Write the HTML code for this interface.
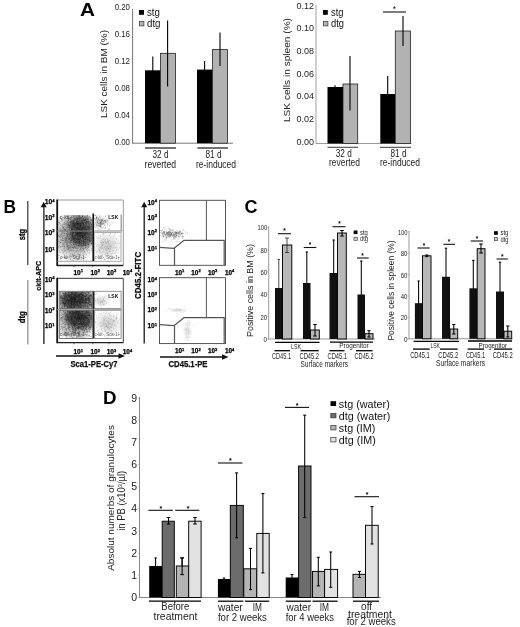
<!DOCTYPE html>
<html><head><meta charset="utf-8"><title>Figure</title>
<style>html,body{margin:0;padding:0;background:#fff}svg{display:block;filter:blur(0.35px)}text{font-family:"Liberation Sans", Arial, Helvetica, sans-serif}</style>
</head><body>
<svg width="520" height="627" viewBox="0 0 520 627" font-family='"Liberation Sans", Arial, Helvetica, sans-serif'>
<rect width="520" height="627" fill="#fff"/>
<text x="80.00" y="15.50" font-size="18" text-anchor="start" font-weight="bold" fill="#000" textLength="15" lengthAdjust="spacingAndGlyphs" >A</text>
<line x1="132.60000000000002" y1="9" x2="132.60000000000002" y2="143.7" stroke="#777" stroke-width="1.0" />
<line x1="132.3" y1="143.2" x2="233" y2="143.2" stroke="#777" stroke-width="1.0" />
<text x="114.70" y="145.30" font-size="9" text-anchor="start" font-weight="normal" fill="#222" textLength="15.3" lengthAdjust="spacingAndGlyphs" >0.00</text>
<text x="114.70" y="118.30" font-size="9" text-anchor="start" font-weight="normal" fill="#222" textLength="15.3" lengthAdjust="spacingAndGlyphs" >0.04</text>
<text x="114.70" y="91.30" font-size="9" text-anchor="start" font-weight="normal" fill="#222" textLength="15.3" lengthAdjust="spacingAndGlyphs" >0.08</text>
<text x="114.70" y="64.30" font-size="9" text-anchor="start" font-weight="normal" fill="#222" textLength="15.3" lengthAdjust="spacingAndGlyphs" >0.12</text>
<text x="114.70" y="37.30" font-size="9" text-anchor="start" font-weight="normal" fill="#222" textLength="15.3" lengthAdjust="spacingAndGlyphs" >0.16</text>
<text x="114.70" y="10.30" font-size="9" text-anchor="start" font-weight="normal" fill="#222" textLength="15.3" lengthAdjust="spacingAndGlyphs" >0.20</text>
<text x="107.30" y="118.00" font-size="9.5" text-anchor="start" font-weight="normal" fill="#222" textLength="88" lengthAdjust="spacingAndGlyphs" transform="rotate(-90 107.30 118.00)" >LSK cells in BM (%)</text>
<rect x="139.00" y="10.00" width="5.00" height="4.80" fill="#000"/>
<text x="147.00" y="15.60" font-size="10.5" text-anchor="start" font-weight="normal" fill="#111" textLength="13" lengthAdjust="spacingAndGlyphs" >stg</text>
<rect x="139.30" y="21.30" width="4.60" height="4.60" fill="#b4b4b4" stroke="#333" stroke-width="0.7"/>
<text x="147.00" y="27.00" font-size="10.5" text-anchor="start" font-weight="normal" fill="#111" textLength="13.5" lengthAdjust="spacingAndGlyphs" >dtg</text>
<line x1="152.8" y1="56.5" x2="152.8" y2="72" stroke="#000" stroke-width="1.1" />
<rect x="145.00" y="70.30" width="15.50" height="72.90" fill="#000"/>
<rect x="160.50" y="53.30" width="15.00" height="89.90" fill="#b2b2b2" stroke="#222" stroke-width="0.8"/>
<line x1="167.6" y1="20.5" x2="167.6" y2="86.5" stroke="#000" stroke-width="1.1" />
<line x1="204.6" y1="61" x2="204.6" y2="72" stroke="#000" stroke-width="1.1" />
<rect x="197.00" y="69.60" width="15.50" height="73.60" fill="#000"/>
<rect x="212.50" y="49.60" width="15.00" height="93.60" fill="#b2b2b2" stroke="#222" stroke-width="0.8"/>
<line x1="220" y1="32.5" x2="220" y2="66" stroke="#000" stroke-width="1.1" />
<line x1="145" y1="148" x2="176" y2="148" stroke="#000" stroke-width="1.1" />
<line x1="197.5" y1="148" x2="228" y2="148" stroke="#000" stroke-width="1.1" />
<text x="152.50" y="158.00" font-size="10" text-anchor="start" font-weight="normal" fill="#222" textLength="16" lengthAdjust="spacingAndGlyphs" >32 d</text>
<text x="144.55" y="167.50" font-size="10" text-anchor="start" font-weight="normal" fill="#222" textLength="31.5" lengthAdjust="spacingAndGlyphs" >reverted</text>
<text x="205.50" y="158.00" font-size="10" text-anchor="start" font-weight="normal" fill="#222" textLength="16" lengthAdjust="spacingAndGlyphs" >81 d</text>
<text x="196.00" y="167.50" font-size="10" text-anchor="start" font-weight="normal" fill="#222" textLength="40" lengthAdjust="spacingAndGlyphs" >re-induced</text>
<line x1="316" y1="5" x2="316" y2="144.0" stroke="#aaa" stroke-width="1.1" />
<line x1="316" y1="143.5" x2="411.5" y2="143.5" stroke="#999" stroke-width="1.0" />
<text x="296.50" y="144.60" font-size="9.2" text-anchor="start" font-weight="normal" fill="#222" textLength="17.5" lengthAdjust="spacingAndGlyphs" >0.00</text>
<text x="296.50" y="121.95" font-size="9.2" text-anchor="start" font-weight="normal" fill="#222" textLength="17.5" lengthAdjust="spacingAndGlyphs" >0.02</text>
<text x="296.50" y="99.30" font-size="9.2" text-anchor="start" font-weight="normal" fill="#222" textLength="17.5" lengthAdjust="spacingAndGlyphs" >0.04</text>
<text x="296.50" y="76.65" font-size="9.2" text-anchor="start" font-weight="normal" fill="#222" textLength="17.5" lengthAdjust="spacingAndGlyphs" >0.06</text>
<text x="296.50" y="54.00" font-size="9.2" text-anchor="start" font-weight="normal" fill="#222" textLength="17.5" lengthAdjust="spacingAndGlyphs" >0.08</text>
<text x="296.50" y="31.35" font-size="9.2" text-anchor="start" font-weight="normal" fill="#222" textLength="17.5" lengthAdjust="spacingAndGlyphs" >0.10</text>
<text x="296.50" y="8.70" font-size="9.2" text-anchor="start" font-weight="normal" fill="#222" textLength="17.5" lengthAdjust="spacingAndGlyphs" >0.12</text>
<text x="290.30" y="122.00" font-size="9.5" text-anchor="start" font-weight="normal" fill="#222" textLength="104" lengthAdjust="spacingAndGlyphs" transform="rotate(-90 290.30 122.00)" >LSK cells in spleen (%)</text>
<rect x="323.00" y="10.00" width="4.80" height="4.80" fill="#000"/>
<text x="331.00" y="15.60" font-size="10.5" text-anchor="start" font-weight="normal" fill="#111" textLength="12.5" lengthAdjust="spacingAndGlyphs" >stg</text>
<rect x="323.30" y="21.30" width="4.60" height="4.60" fill="#b4b4b4" stroke="#333" stroke-width="0.7"/>
<text x="331.00" y="27.00" font-size="10.5" text-anchor="start" font-weight="normal" fill="#111" textLength="13" lengthAdjust="spacingAndGlyphs" >dtg</text>
<line x1="335" y1="85.3" x2="335" y2="88" stroke="#000" stroke-width="1.1" />
<rect x="327.50" y="87.00" width="15.50" height="56.50" fill="#000"/>
<rect x="343.00" y="84.00" width="14.70" height="59.50" fill="#b2b2b2" stroke="#222" stroke-width="0.8"/>
<line x1="350" y1="56" x2="350" y2="110.5" stroke="#000" stroke-width="1.1" />
<line x1="387.7" y1="76" x2="387.7" y2="96" stroke="#000" stroke-width="1.1" />
<rect x="380.30" y="94.00" width="15.00" height="49.50" fill="#000"/>
<rect x="395.30" y="31.00" width="15.20" height="112.50" fill="#b2b2b2" stroke="#222" stroke-width="0.8"/>
<line x1="403" y1="16" x2="403" y2="46" stroke="#000" stroke-width="1.1" />
<line x1="383" y1="12" x2="406" y2="12" stroke="#111" stroke-width="1.1" />
<text x="394.50" y="11.60" font-size="8.5" text-anchor="middle" font-weight="normal" fill="#111" >*</text>
<line x1="327.5" y1="147.3" x2="358" y2="147.3" stroke="#222" stroke-width="0.9" />
<line x1="380" y1="147.3" x2="411" y2="147.3" stroke="#222" stroke-width="0.9" />
<text x="335.80" y="157.20" font-size="10" text-anchor="start" font-weight="normal" fill="#222" textLength="16" lengthAdjust="spacingAndGlyphs" >32 d</text>
<text x="329.00" y="166.00" font-size="10" text-anchor="start" font-weight="normal" fill="#222" textLength="31" lengthAdjust="spacingAndGlyphs" >reverted</text>
<text x="390.50" y="157.20" font-size="10" text-anchor="start" font-weight="normal" fill="#222" textLength="16" lengthAdjust="spacingAndGlyphs" >81 d</text>
<text x="380.00" y="166.00" font-size="10" text-anchor="start" font-weight="normal" fill="#222" textLength="40" lengthAdjust="spacingAndGlyphs" >re-induced</text>
<text x="3.50" y="212.60" font-size="17.5" text-anchor="start" font-weight="bold" fill="#000" textLength="12.5" lengthAdjust="spacingAndGlyphs" >B</text>
<line x1="27.8" y1="201" x2="27.8" y2="265" stroke="#222" stroke-width="1.1" />
<line x1="27.8" y1="280" x2="27.8" y2="344.5" stroke="#999" stroke-width="1.4" />
<text x="25.20" y="240.30" font-size="8.5" text-anchor="start" font-weight="bold" fill="#111" textLength="11.4" lengthAdjust="spacingAndGlyphs" transform="rotate(-90 25.20 240.30)" stroke="#000" stroke-width="0.25">stg</text>
<text x="25.20" y="323.30" font-size="8.5" text-anchor="start" font-weight="bold" fill="#111" textLength="12" lengthAdjust="spacingAndGlyphs" transform="rotate(-90 25.20 323.30)" stroke="#000" stroke-width="0.25">dtg</text>
<defs><marker id="ah" viewBox="0 0 10 10" refX="5" refY="5" markerWidth="5" markerHeight="5" orient="auto-start-reverse"><path d="M0,0 L10,5 L0,10 z" fill="#111"/></marker></defs>
<line x1="43.9" y1="344" x2="43.9" y2="206" stroke="#111" stroke-width="1.25" />
<path d="M43.7,201.8 L40.7,207.2 L46.7,207.2 z" fill="#111"/>
<text x="41.30" y="290.80" font-size="8" text-anchor="start" font-weight="bold" fill="#111" textLength="30" lengthAdjust="spacingAndGlyphs" transform="rotate(-90 41.30 290.80)" stroke="#000" stroke-width="0.25">ckit-APC</text>
<line x1="56" y1="356" x2="121" y2="356" stroke="#111" stroke-width="1.4" />
<path d="M125,356 L118.5,353.2 L118.5,358.8 z" fill="#111"/>
<text x="70.50" y="367.00" font-size="9" text-anchor="start" font-weight="bold" fill="#111" textLength="47" lengthAdjust="spacingAndGlyphs" stroke="#000" stroke-width="0.25">Sca1-PE-Cy7</text>
<defs>
<radialGradient id="gd"><stop offset="0" stop-color="#444" stop-opacity="0.72"/><stop offset="0.6" stop-color="#444" stop-opacity="0.62"/><stop offset="1" stop-color="#444" stop-opacity="0"/></radialGradient>
<radialGradient id="gh"><stop offset="0" stop-color="#444" stop-opacity="0.6"/><stop offset="0.6" stop-color="#555" stop-opacity="0.35"/><stop offset="1" stop-color="#666" stop-opacity="0"/></radialGradient>
<radialGradient id="gl"><stop offset="0" stop-color="#888" stop-opacity="0.45"/><stop offset="1" stop-color="#999" stop-opacity="0"/></radialGradient>
<radialGradient id="gl2"><stop offset="0" stop-color="#999" stop-opacity="0.3"/><stop offset="1" stop-color="#aaa" stop-opacity="0"/></radialGradient>
<filter id="bl" x="-5%" y="-5%" width="110%" height="110%"><feGaussianBlur stdDeviation="0.35"/></filter>
</defs>
<clipPath id="cp1"><rect x="58" y="215.0" width="34.8" height="47.5"/></clipPath>
<g clip-path="url(#cp1)">
<ellipse cx="75" cy="236" rx="24" ry="27" fill="url(#gh)"/>
<ellipse cx="81" cy="225" rx="15" ry="12" fill="url(#gd)"/>
<ellipse cx="83.5" cy="237" rx="14" ry="12" fill="url(#gd)"/>
<g filter="url(#bl)">
<path d="M75.7,236.6h.01M76.0,227.5h.01M69.6,228.7h.01M88.0,235.7h.01M87.3,233.7h.01M81.6,233.0h.01M63.0,240.4h.01M82.6,236.5h.01M70.0,225.8h.01M80.7,230.5h.01M82.7,223.9h.01M80.8,235.3h.01M72.0,249.9h.01M83.0,244.2h.01M72.4,222.9h.01M74.9,229.8h.01M83.7,233.7h.01M74.0,220.5h.01M73.3,244.4h.01M70.7,233.7h.01M78.4,245.4h.01M59.9,227.5h.01M77.0,222.0h.01M82.5,230.3h.01M64.8,240.1h.01M84.0,241.4h.01M91.0,235.0h.01M79.1,216.7h.01M83.5,224.3h.01M73.9,217.1h.01M69.3,225.2h.01M64.9,233.6h.01M91.0,237.4h.01M81.2,222.9h.01M67.9,241.8h.01M87.9,232.7h.01M80.2,235.8h.01M92.3,237.8h.01M82.7,237.0h.01M63.9,245.1h.01M86.6,236.8h.01M60.2,224.0h.01M76.3,242.2h.01M66.2,248.7h.01M83.0,229.3h.01M80.9,238.1h.01M79.1,243.6h.01M72.0,226.4h.01M87.4,231.3h.01M70.1,241.4h.01M91.2,226.1h.01M65.6,229.5h.01M76.7,227.7h.01M90.6,219.7h.01M89.3,217.0h.01M70.9,237.9h.01M88.2,240.4h.01M81.1,232.6h.01M79.4,237.3h.01M76.4,234.1h.01M83.2,231.0h.01M84.9,237.2h.01M74.2,226.9h.01M77.9,241.2h.01M75.0,235.2h.01M67.9,233.7h.01M81.6,233.6h.01M74.1,238.2h.01M80.5,225.3h.01M73.0,229.9h.01M76.0,230.3h.01M87.1,218.1h.01M77.4,241.5h.01M85.7,247.4h.01M62.7,227.1h.01M74.9,237.9h.01M87.8,215.1h.01M79.6,244.1h.01M76.7,233.1h.01M85.2,232.6h.01M77.2,247.9h.01M87.4,227.8h.01M86.2,228.1h.01M79.2,238.8h.01M80.0,238.0h.01M83.5,220.4h.01M89.4,239.2h.01M91.3,220.7h.01M78.0,218.5h.01M84.9,248.5h.01M70.0,248.2h.01M86.9,229.0h.01M60.3,246.5h.01M77.1,224.4h.01M81.6,235.5h.01M91.5,219.8h.01M88.2,247.4h.01M91.1,229.0h.01M71.3,242.2h.01M79.0,232.4h.01M90.8,228.1h.01M61.3,240.0h.01M80.9,224.3h.01M77.9,240.2h.01M78.7,245.6h.01M77.4,242.4h.01M91.4,248.7h.01M72.0,240.7h.01M61.1,219.1h.01M60.3,242.8h.01M66.9,230.9h.01M76.3,230.7h.01M72.7,233.6h.01M82.8,242.0h.01M76.2,217.1h.01M73.0,242.8h.01M63.2,224.4h.01M87.1,239.7h.01M78.1,239.9h.01M79.5,218.0h.01M63.9,224.0h.01M86.3,224.8h.01M69.9,222.5h.01M64.2,229.7h.01M67.4,235.0h.01M84.5,228.0h.01M80.6,226.0h.01M85.0,239.2h.01M84.0,234.6h.01M90.0,238.3h.01M86.1,245.4h.01M75.3,225.8h.01M82.2,257.7h.01M69.7,238.6h.01M83.1,240.9h.01M69.8,230.0h.01M80.6,240.1h.01M77.7,228.9h.01M68.9,227.1h.01M86.0,232.1h.01M70.3,221.7h.01M83.6,236.3h.01M77.4,236.7h.01M60.5,242.4h.01M80.9,223.3h.01M89.9,250.9h.01M65.4,223.7h.01M80.6,233.0h.01M74.4,220.3h.01M67.3,216.2h.01M70.2,233.9h.01M58.6,222.8h.01M77.5,236.8h.01M71.5,229.6h.01M82.1,235.1h.01M83.7,233.3h.01M75.1,239.7h.01M78.4,221.9h.01M72.4,231.0h.01M77.0,232.7h.01M78.0,232.9h.01M76.8,217.2h.01M81.8,242.6h.01M81.9,228.9h.01M82.0,220.4h.01M60.9,231.7h.01M69.6,239.1h.01M68.6,248.4h.01M74.6,215.9h.01M71.1,236.7h.01M82.5,232.9h.01M91.4,238.8h.01M77.8,237.6h.01M87.2,219.1h.01M76.7,239.0h.01M75.3,242.8h.01M83.4,241.0h.01M76.1,259.0h.01M89.2,228.6h.01M78.8,259.5h.01M74.9,240.6h.01M86.8,231.1h.01M67.5,233.1h.01M81.2,243.4h.01M85.0,231.3h.01M85.7,236.9h.01M79.9,231.6h.01M75.8,238.5h.01M68.5,224.1h.01M71.9,237.3h.01M83.1,230.4h.01M75.9,215.4h.01M87.8,221.3h.01M85.0,241.3h.01M60.9,230.4h.01M61.6,219.3h.01M72.3,215.6h.01M78.3,233.7h.01M83.7,238.7h.01M91.5,243.8h.01M66.2,225.4h.01M68.5,219.2h.01M77.3,231.1h.01M66.9,230.7h.01M76.2,227.6h.01M77.4,222.6h.01M84.3,234.9h.01M77.2,223.6h.01M69.2,231.4h.01M64.5,233.2h.01M79.3,215.8h.01M75.7,227.5h.01M82.1,237.7h.01M77.7,221.6h.01M76.7,230.3h.01M84.6,234.2h.01M71.5,216.1h.01M74.6,222.9h.01M68.0,229.7h.01M73.6,232.2h.01M82.7,226.5h.01M87.9,232.3h.01M71.2,233.7h.01M83.4,256.7h.01M80.9,245.1h.01M84.9,241.4h.01M82.6,229.3h.01M82.6,219.1h.01M88.6,219.8h.01M80.2,254.3h.01M76.0,231.2h.01M88.5,231.3h.01M70.7,233.8h.01M83.2,238.8h.01M71.0,250.3h.01M80.4,226.3h.01M90.7,223.2h.01M84.1,225.7h.01M71.8,238.9h.01M90.0,230.9h.01M71.9,239.9h.01M77.6,234.4h.01M91.7,243.4h.01M73.3,256.1h.01M78.0,239.6h.01M72.2,230.5h.01M62.3,250.7h.01M90.3,217.6h.01M88.6,225.9h.01M77.5,227.6h.01M76.9,219.0h.01M78.2,215.2h.01M77.4,234.4h.01M82.2,228.5h.01M69.9,232.8h.01M73.6,248.2h.01M84.9,229.7h.01M73.8,223.3h.01M69.6,227.1h.01M80.7,236.7h.01M83.1,254.1h.01M71.7,231.1h.01M73.3,232.9h.01M79.4,235.5h.01M75.9,235.0h.01M78.5,239.5h.01M61.0,221.3h.01M78.0,219.6h.01M68.6,237.9h.01M72.2,238.0h.01M84.7,234.4h.01M82.6,229.8h.01M65.3,230.7h.01M82.1,225.2h.01M77.1,239.2h.01M70.1,238.0h.01M79.3,229.3h.01M91.9,234.5h.01M86.1,223.4h.01M77.9,230.9h.01M62.0,246.8h.01M84.7,229.6h.01M82.0,235.0h.01M64.5,228.7h.01M91.4,224.7h.01M68.8,216.0h.01M67.0,234.7h.01M80.2,255.6h.01M73.3,223.6h.01M82.8,237.0h.01M68.9,218.1h.01M80.6,233.7h.01M66.2,228.8h.01M73.1,236.1h.01M76.9,230.1h.01M74.8,242.6h.01M90.5,227.0h.01M85.6,222.7h.01M78.6,239.2h.01M91.6,226.8h.01M77.3,233.2h.01M64.5,231.2h.01M71.9,235.1h.01M78.3,233.9h.01M73.1,240.8h.01M75.5,224.3h.01M71.9,230.8h.01M85.6,229.2h.01M80.8,223.8h.01M80.7,249.3h.01M71.8,257.0h.01M72.2,231.2h.01M79.6,242.3h.01M83.5,239.7h.01M83.6,259.9h.01M79.8,233.8h.01M86.4,235.1h.01M85.3,226.9h.01M86.3,254.7h.01M77.9,228.2h.01M73.5,221.8h.01M72.3,238.0h.01M78.3,231.7h.01M76.4,241.1h.01M82.4,229.4h.01M84.0,229.3h.01M67.6,247.0h.01M82.2,220.5h.01M87.7,234.8h.01M63.9,248.7h.01M81.0,240.8h.01M79.8,229.4h.01M64.1,241.7h.01M78.3,227.8h.01M81.2,231.9h.01M84.1,226.9h.01M74.2,238.4h.01M90.0,227.0h.01M76.9,248.4h.01M75.1,239.1h.01M89.0,223.2h.01M79.9,230.1h.01M79.0,243.4h.01M72.8,236.5h.01M68.5,236.5h.01M83.1,227.9h.01M71.7,224.9h.01M74.4,240.4h.01M78.7,226.6h.01M82.9,248.4h.01M78.1,235.0h.01M89.2,233.9h.01M66.4,258.4h.01M77.6,235.6h.01M86.7,238.4h.01M75.6,219.4h.01M78.9,242.4h.01M68.2,219.7h.01M75.7,226.2h.01M82.1,223.3h.01M70.1,226.7h.01M77.6,223.7h.01M78.1,239.3h.01M88.7,249.8h.01M70.9,226.4h.01M71.5,230.6h.01M82.7,216.1h.01M82.2,230.7h.01M61.6,234.2h.01M85.3,233.3h.01M82.3,235.9h.01M89.7,228.5h.01M85.9,226.5h.01M84.6,222.0h.01M77.0,250.0h.01M82.0,229.3h.01M67.7,222.3h.01M79.7,241.3h.01M81.8,236.8h.01M77.6,245.9h.01M74.5,225.0h.01M86.0,231.7h.01M75.5,224.7h.01M75.7,237.9h.01M81.2,217.7h.01M81.8,233.0h.01M69.0,239.5h.01M75.5,227.3h.01M85.2,245.5h.01M71.8,235.8h.01M70.1,256.5h.01M73.6,244.1h.01M72.2,239.9h.01M74.1,236.5h.01M77.2,223.6h.01M63.2,240.4h.01M62.5,243.7h.01M72.8,232.6h.01M89.3,232.3h.01M88.6,239.1h.01M70.7,240.5h.01M82.5,238.1h.01M86.1,239.1h.01M79.5,236.4h.01M75.0,231.4h.01M86.0,226.1h.01M88.3,222.3h.01M80.4,225.2h.01M79.4,223.4h.01M63.6,243.0h.01M80.7,224.9h.01M79.8,241.9h.01M69.2,229.8h.01M82.9,236.8h.01M89.2,234.6h.01M78.1,227.9h.01M80.4,226.3h.01M68.8,222.9h.01M72.6,224.3h.01M67.6,238.0h.01M66.2,238.3h.01M68.9,234.9h.01M90.4,233.2h.01M71.4,231.5h.01M72.5,232.8h.01M73.8,231.9h.01M84.6,239.4h.01M86.2,237.5h.01M75.4,230.8h.01M75.6,227.6h.01M75.0,230.7h.01M69.2,230.7h.01M82.6,229.2h.01M86.8,260.2h.01M82.7,227.7h.01M85.7,235.1h.01M78.2,224.5h.01M83.7,225.7h.01M80.0,225.4h.01M79.8,239.3h.01M70.1,230.6h.01M83.6,232.6h.01M89.2,252.9h.01M85.7,247.8h.01M86.3,240.0h.01M72.4,223.2h.01M86.0,221.0h.01M61.7,220.0h.01M71.8,223.0h.01M80.1,222.8h.01M89.8,230.1h.01M68.2,245.4h.01M72.8,233.4h.01M77.9,227.5h.01M80.9,223.4h.01M66.6,222.7h.01M77.8,231.6h.01M83.0,232.3h.01M70.9,223.2h.01M58.9,229.1h.01M82.4,236.8h.01M76.9,229.1h.01M86.4,231.2h.01M84.6,237.4h.01M79.9,245.4h.01M72.8,227.1h.01M70.7,222.2h.01M92.0,250.4h.01M78.2,237.3h.01M88.6,239.9h.01M88.8,217.1h.01M72.2,236.0h.01M90.9,232.1h.01M70.3,227.1h.01M72.1,221.6h.01M91.5,224.1h.01M78.2,254.8h.01M88.7,234.7h.01M72.5,235.5h.01M92.6,237.9h.01M89.4,232.1h.01M82.6,228.8h.01M81.8,245.3h.01M65.1,230.3h.01M80.2,224.7h.01M75.2,239.7h.01M77.7,218.7h.01M77.5,218.9h.01M78.6,236.1h.01M78.3,234.1h.01M70.3,246.7h.01M76.3,222.6h.01M68.9,227.1h.01M80.6,218.0h.01M76.8,246.7h.01M84.1,229.3h.01M79.1,229.7h.01M77.6,239.1h.01M77.8,221.2h.01M83.9,224.3h.01M79.3,255.0h.01M68.6,218.6h.01M61.1,235.0h.01M64.7,237.8h.01M71.0,227.0h.01M81.0,245.9h.01M79.3,233.0h.01M75.2,236.0h.01M80.6,231.6h.01M73.5,216.4h.01M89.0,236.9h.01M67.1,246.4h.01M82.8,235.7h.01M79.8,232.9h.01M66.8,215.7h.01M73.0,224.3h.01M81.3,233.9h.01M78.3,223.6h.01M74.0,241.5h.01M84.9,232.1h.01M75.1,248.1h.01M72.7,238.1h.01M88.4,228.1h.01M85.4,218.7h.01M87.1,233.2h.01M63.7,238.4h.01M70.0,245.1h.01M71.9,229.2h.01M80.5,227.3h.01M80.3,224.9h.01M84.0,231.1h.01M88.5,231.4h.01M62.0,232.1h.01M82.2,242.8h.01M68.3,248.0h.01M76.6,257.3h.01M76.7,238.5h.01M74.7,218.7h.01M87.9,241.0h.01M91.8,240.4h.01M72.1,223.6h.01M70.7,237.4h.01M81.0,228.0h.01M79.6,229.4h.01M79.9,239.3h.01M86.6,223.5h.01M64.4,246.7h.01M79.0,243.2h.01M63.2,227.4h.01M78.2,215.1h.01M73.4,239.0h.01M87.7,248.5h.01M70.2,215.6h.01M82.7,241.3h.01M79.7,216.7h.01M85.0,239.7h.01M83.0,225.6h.01M80.7,239.7h.01M81.0,236.3h.01M78.1,240.8h.01M72.7,230.1h.01M75.3,237.3h.01M92.4,228.2h.01M85.1,237.5h.01M77.0,219.3h.01M82.3,245.8h.01M82.8,235.7h.01M76.2,232.9h.01M65.2,242.5h.01M74.3,218.8h.01M71.2,221.9h.01M85.7,242.6h.01M65.8,241.2h.01M86.0,224.6h.01M64.6,222.8h.01M72.3,234.8h.01M86.1,217.7h.01M71.8,221.6h.01M73.1,245.3h.01M85.7,237.6h.01M73.3,224.9h.01M69.2,236.6h.01M71.3,223.2h.01M83.4,245.6h.01M79.6,220.3h.01M88.9,234.3h.01M86.3,247.3h.01M88.1,226.1h.01M87.5,239.5h.01M64.2,226.5h.01M65.2,229.8h.01M83.2,219.3h.01M59.5,245.3h.01M81.4,247.2h.01M66.1,242.7h.01M76.1,234.0h.01M76.6,242.0h.01M87.3,232.0h.01M65.8,239.2h.01M73.8,237.9h.01M80.4,248.9h.01M88.2,226.0h.01M81.1,250.4h.01M73.2,235.8h.01M88.7,244.8h.01M82.7,216.5h.01M66.7,233.7h.01M81.5,259.0h.01M70.2,243.5h.01M70.6,232.8h.01M73.6,229.3h.01M82.2,222.1h.01M82.2,224.0h.01M73.1,236.9h.01M72.8,234.2h.01M92.4,231.3h.01M76.7,239.1h.01M74.7,242.9h.01M66.5,237.8h.01M73.4,222.2h.01M91.1,220.3h.01M88.8,247.0h.01M77.0,229.6h.01M74.2,224.1h.01M82.0,234.6h.01M79.6,249.9h.01M75.0,236.2h.01M91.1,220.0h.01M87.3,251.2h.01M65.8,218.9h.01M82.5,247.0h.01M63.5,227.5h.01M60.7,239.6h.01M71.4,228.1h.01M78.5,237.0h.01M74.9,231.2h.01M73.1,232.3h.01M67.4,231.7h.01M60.6,225.6h.01M66.7,233.8h.01M71.4,239.1h.01M81.5,229.9h.01M69.7,219.1h.01M90.1,233.7h.01M65.7,258.2h.01M67.7,230.2h.01M79.9,229.3h.01M75.5,215.9h.01M68.5,249.6h.01M71.2,240.3h.01M62.8,228.0h.01M80.3,242.4h.01M67.9,237.5h.01M81.5,222.9h.01M82.3,221.1h.01M70.8,230.8h.01M74.2,239.4h.01M74.4,244.9h.01M67.6,216.6h.01M92.0,235.4h.01M86.5,221.9h.01M85.2,233.9h.01M83.8,231.3h.01M88.9,223.9h.01M88.4,222.9h.01M68.6,220.7h.01M74.0,217.0h.01M75.4,224.1h.01M73.0,220.4h.01M78.3,225.9h.01M79.0,233.7h.01M73.2,222.2h.01M71.6,227.8h.01M75.0,241.9h.01M74.0,241.6h.01M89.0,235.8h.01M82.4,232.4h.01M82.4,217.6h.01M86.5,225.1h.01M86.9,232.0h.01M60.2,216.8h.01M88.1,229.5h.01M74.4,233.7h.01M74.2,225.0h.01M78.9,232.6h.01M91.7,231.5h.01M79.2,232.5h.01M76.7,223.0h.01M77.4,224.0h.01M77.5,226.4h.01M68.2,218.5h.01M77.4,259.4h.01M77.7,229.4h.01M91.0,232.5h.01M79.5,226.9h.01M72.6,247.5h.01M87.0,249.9h.01M74.9,231.3h.01M70.1,241.6h.01M65.5,237.2h.01" stroke="#222" stroke-width="0.66" stroke-linecap="round" fill="none" opacity="0.6"/>
<path d="M87.7,242.7h.01M73.4,239.8h.01M75.0,223.2h.01M70.7,240.4h.01M91.5,224.7h.01M74.7,226.9h.01M75.3,240.7h.01M75.2,225.4h.01M66.8,238.2h.01M72.4,239.6h.01M68.0,218.6h.01M82.0,223.1h.01M85.5,230.1h.01M71.8,235.6h.01M75.0,226.9h.01M87.5,216.9h.01M78.3,233.1h.01M68.2,224.7h.01M83.6,244.3h.01M84.6,227.3h.01M71.8,221.6h.01M75.4,231.3h.01M79.7,245.0h.01M82.0,220.4h.01M90.8,238.5h.01M80.7,223.5h.01M66.9,220.8h.01M86.4,222.8h.01M70.8,231.8h.01M81.7,235.5h.01M84.6,242.7h.01M74.1,238.8h.01M73.1,236.2h.01M81.3,232.2h.01M86.8,229.8h.01M87.8,237.9h.01M80.9,224.9h.01M74.7,225.3h.01M78.6,229.8h.01M85.4,222.3h.01M75.0,227.1h.01M81.3,220.7h.01M91.3,224.9h.01M80.0,232.5h.01M81.3,235.4h.01M82.0,231.5h.01M66.8,223.6h.01M63.6,235.7h.01M82.2,228.2h.01M74.3,224.8h.01M79.6,241.6h.01M76.6,222.1h.01M76.1,231.7h.01M80.3,232.5h.01M79.8,238.4h.01M92.4,218.8h.01M81.1,227.6h.01M82.5,216.2h.01M83.7,231.7h.01M77.4,223.2h.01M70.1,221.8h.01M84.9,234.9h.01M79.8,234.6h.01M75.8,230.6h.01M80.3,235.0h.01M79.5,228.7h.01M79.1,224.2h.01M83.0,250.6h.01M89.8,216.0h.01M84.9,237.5h.01M85.4,219.4h.01M73.9,232.4h.01M83.5,220.8h.01M77.3,226.4h.01M80.4,233.0h.01M78.0,218.9h.01M88.7,244.4h.01M79.3,239.2h.01M83.1,235.9h.01M83.4,223.1h.01M84.0,239.1h.01M73.7,247.7h.01M77.6,224.6h.01M74.3,231.0h.01M79.8,236.0h.01M65.9,250.8h.01M84.7,234.3h.01M81.9,228.1h.01M79.1,222.6h.01M81.2,229.8h.01M82.2,222.3h.01M80.3,230.4h.01M84.2,220.4h.01M82.9,238.8h.01M84.2,226.7h.01M76.6,227.9h.01M85.1,244.0h.01M78.9,224.2h.01M82.6,231.8h.01M73.6,223.4h.01M79.3,236.0h.01M71.6,220.8h.01M83.5,219.0h.01M80.8,233.2h.01M79.2,220.8h.01M79.6,227.0h.01M82.4,222.5h.01M78.8,230.1h.01M86.7,224.5h.01M83.8,224.9h.01M85.2,245.6h.01M77.2,234.0h.01M73.5,238.8h.01M88.5,230.3h.01M72.1,233.6h.01M88.0,239.8h.01M75.2,242.8h.01M71.4,240.2h.01M87.8,227.0h.01M71.4,229.1h.01M78.6,229.6h.01M84.9,228.7h.01M81.3,233.8h.01M80.0,246.6h.01M83.1,230.8h.01M78.5,224.4h.01M89.4,231.4h.01M72.4,224.9h.01M79.0,226.0h.01M87.6,219.5h.01M83.4,231.3h.01M71.8,230.4h.01M79.3,234.5h.01M76.8,232.7h.01M68.3,220.2h.01M85.5,239.4h.01M79.9,224.6h.01M74.4,236.0h.01M84.6,220.7h.01M66.8,243.1h.01M81.1,221.9h.01M80.4,238.1h.01M61.9,240.0h.01M88.0,233.6h.01M80.0,239.4h.01M75.5,223.7h.01M77.4,229.3h.01M72.4,234.4h.01M83.8,230.6h.01M91.9,227.1h.01M89.1,225.1h.01M81.4,228.4h.01M76.5,224.5h.01M77.6,223.5h.01M64.6,224.6h.01M76.2,225.3h.01M72.6,228.8h.01M85.5,227.7h.01M76.6,242.2h.01M86.8,238.3h.01M88.1,227.1h.01M79.1,240.0h.01M76.1,228.9h.01M82.6,233.4h.01M78.1,238.9h.01M78.8,236.5h.01M87.5,235.9h.01M85.1,219.6h.01M70.8,224.4h.01M83.3,243.5h.01M71.4,232.8h.01M74.0,223.4h.01M78.1,236.2h.01M81.5,240.6h.01M73.1,238.0h.01M86.5,230.6h.01M83.3,224.9h.01M72.4,226.4h.01M75.5,256.0h.01M76.6,244.9h.01M81.4,232.8h.01M85.2,223.0h.01M86.4,233.4h.01M69.4,235.4h.01M83.9,234.1h.01M91.1,226.3h.01M83.6,236.7h.01M73.7,240.8h.01M69.8,218.3h.01M83.7,220.2h.01M79.2,215.2h.01M80.5,219.8h.01M82.4,216.2h.01M83.1,227.6h.01M80.4,229.4h.01M80.9,218.1h.01M62.0,230.3h.01M73.4,225.9h.01M74.7,224.5h.01M72.6,232.9h.01M79.0,222.6h.01M73.1,237.3h.01M75.4,235.3h.01M72.4,230.0h.01M82.4,237.0h.01M85.6,239.3h.01M77.4,228.1h.01M85.4,226.2h.01M87.4,215.7h.01M84.6,228.4h.01M66.2,238.8h.01M82.2,230.2h.01M72.5,225.8h.01M90.6,222.6h.01M71.6,228.8h.01M77.2,221.8h.01M74.1,239.4h.01M69.9,247.6h.01M76.2,220.2h.01M85.5,235.1h.01M72.7,236.7h.01M67.1,221.7h.01M87.9,227.7h.01M70.9,234.6h.01M86.4,229.8h.01M67.4,226.9h.01M82.9,236.9h.01M76.6,229.7h.01M88.4,221.5h.01M85.6,223.9h.01M83.2,236.2h.01M71.7,229.2h.01M81.7,235.3h.01M73.5,221.1h.01M66.5,252.9h.01M78.7,228.0h.01M69.5,238.4h.01M76.3,242.9h.01M86.0,230.2h.01M85.1,220.0h.01M77.7,224.8h.01M71.1,230.2h.01M79.0,242.9h.01M73.6,225.8h.01M83.0,233.6h.01M80.2,225.7h.01M83.5,233.2h.01M67.1,227.6h.01M70.4,219.4h.01M81.0,230.5h.01M80.8,222.1h.01M78.6,221.8h.01M82.7,236.2h.01M92.3,241.4h.01M74.4,225.9h.01M73.4,232.8h.01M64.6,218.7h.01M71.0,234.6h.01M80.0,232.7h.01M92.5,222.6h.01M74.1,247.7h.01M82.4,223.0h.01M65.8,216.3h.01M62.9,230.6h.01M80.3,238.9h.01M79.0,223.8h.01M74.8,247.1h.01M67.6,231.6h.01M80.2,235.6h.01M77.2,234.5h.01M85.7,228.7h.01M76.8,228.3h.01M73.2,228.1h.01M77.9,231.9h.01M89.4,241.8h.01M76.9,235.4h.01M82.1,236.9h.01M80.2,232.4h.01M76.7,222.9h.01M86.1,241.7h.01M84.6,233.9h.01M81.9,225.9h.01M67.5,236.0h.01M81.4,225.0h.01M73.2,241.5h.01M67.4,245.9h.01M84.5,251.3h.01M75.0,229.8h.01M76.5,231.4h.01M78.5,223.3h.01M87.5,222.9h.01M76.4,235.0h.01M76.2,226.1h.01M82.5,226.7h.01M71.3,229.1h.01M78.5,245.3h.01M72.3,238.7h.01M74.5,226.8h.01M77.7,232.4h.01M86.0,245.7h.01M75.5,242.0h.01M87.0,237.3h.01M74.7,238.1h.01M79.2,233.2h.01M78.1,236.0h.01M87.8,240.2h.01M78.6,239.0h.01M90.2,221.6h.01M90.3,218.0h.01M83.8,235.3h.01M90.4,232.5h.01M76.6,222.8h.01M71.2,236.9h.01M78.3,223.5h.01M83.7,223.1h.01M76.9,225.9h.01M91.6,243.2h.01M78.9,215.9h.01M81.9,230.6h.01M82.4,235.1h.01M77.8,238.3h.01M85.9,231.9h.01M77.2,225.7h.01M84.8,220.1h.01M78.9,223.3h.01M70.2,235.4h.01M79.8,230.3h.01M86.1,216.6h.01M79.5,232.6h.01M85.8,220.2h.01M85.0,232.0h.01M89.5,240.2h.01M83.8,249.3h.01M80.0,226.2h.01M77.6,221.5h.01M79.4,233.8h.01M86.9,226.9h.01M89.7,224.1h.01M74.7,222.9h.01M90.2,234.7h.01M72.5,234.7h.01M83.3,227.9h.01M80.2,227.3h.01M79.4,241.3h.01M89.8,227.6h.01M74.9,228.1h.01M86.1,233.1h.01M76.0,233.2h.01M78.6,234.5h.01M77.2,217.1h.01M80.4,236.7h.01M72.4,229.1h.01M86.0,226.7h.01M75.6,247.8h.01M85.7,239.0h.01M73.5,244.3h.01M68.7,225.5h.01M85.0,241.7h.01M73.7,224.2h.01M84.4,234.9h.01M77.0,234.7h.01M85.3,232.7h.01M83.6,243.2h.01M76.8,231.4h.01M76.4,239.0h.01M77.2,234.1h.01M80.9,230.6h.01M91.6,229.3h.01M89.6,237.2h.01M88.9,228.6h.01M86.3,236.6h.01M75.8,232.3h.01M79.1,229.7h.01M88.8,223.7h.01M76.9,224.4h.01M80.1,234.9h.01M91.9,232.7h.01M83.1,223.6h.01M83.9,241.8h.01M86.0,243.7h.01M85.6,217.0h.01M77.9,235.1h.01M82.8,223.0h.01M74.0,238.4h.01M71.0,242.4h.01M80.1,232.6h.01M71.0,224.8h.01M84.6,217.3h.01M71.8,230.4h.01M83.2,236.3h.01M77.5,228.2h.01M78.4,225.0h.01M62.6,238.3h.01M81.7,231.4h.01M75.8,232.2h.01M79.9,229.3h.01M87.4,215.1h.01M81.7,220.8h.01M77.9,243.0h.01M72.7,229.1h.01M76.0,238.2h.01M73.4,215.5h.01M83.5,226.9h.01M77.9,239.3h.01M74.0,226.8h.01M81.0,233.6h.01M76.5,238.9h.01M89.5,227.0h.01M80.9,227.1h.01M75.7,219.0h.01M77.3,241.2h.01M87.7,227.0h.01M76.5,223.9h.01M71.9,245.6h.01M84.5,231.0h.01M76.7,221.2h.01M88.8,236.7h.01M73.6,238.5h.01M72.6,235.5h.01M73.5,226.4h.01M83.3,233.7h.01M86.8,222.8h.01M90.6,241.6h.01M79.9,234.0h.01M74.8,228.7h.01M71.1,230.8h.01M81.3,241.6h.01M86.4,237.0h.01M77.6,228.1h.01M77.7,231.9h.01M67.0,236.7h.01M69.5,225.5h.01M80.1,225.6h.01M91.2,229.2h.01M90.6,240.1h.01M76.7,233.5h.01M88.7,227.1h.01M80.6,225.2h.01M80.4,226.9h.01M80.6,238.7h.01M89.4,231.2h.01M81.4,237.4h.01M78.1,220.9h.01M87.5,221.9h.01M86.3,221.7h.01M92.3,221.0h.01M85.7,243.0h.01M73.5,242.8h.01M84.9,236.1h.01M79.6,227.4h.01M77.5,227.5h.01M68.0,225.1h.01M92.1,243.4h.01M77.6,223.8h.01M82.7,239.2h.01M84.9,219.9h.01M81.1,231.2h.01M89.7,240.3h.01M83.5,240.5h.01M77.3,243.3h.01M77.1,233.4h.01M86.2,222.1h.01M81.1,229.5h.01M77.8,234.3h.01M65.8,229.8h.01M80.6,227.7h.01M85.3,245.1h.01M77.0,221.9h.01M75.9,230.8h.01M83.9,222.6h.01M86.7,221.1h.01M85.6,233.7h.01M83.1,248.6h.01M78.2,228.6h.01M83.2,237.5h.01M71.0,232.4h.01M75.0,235.4h.01M89.2,230.4h.01M79.3,231.6h.01M60.1,236.7h.01M83.8,231.4h.01M77.3,223.7h.01M78.8,240.5h.01M79.3,241.6h.01M62.7,226.0h.01M81.8,229.9h.01M68.8,224.3h.01M88.4,218.8h.01M73.3,220.5h.01M76.3,235.6h.01M89.8,224.9h.01M76.0,244.4h.01M79.5,219.3h.01M75.7,223.7h.01M73.2,227.1h.01M85.9,233.0h.01M70.7,254.1h.01M73.3,231.0h.01M80.2,236.6h.01M77.8,233.9h.01" stroke="#111" stroke-width="0.66" stroke-linecap="round" fill="none" opacity="0.6"/>
<path d="M90.2,239.2h.01M59.6,242.1h.01M62.3,233.4h.01M71.8,242.2h.01M67.3,248.6h.01M68.1,221.7h.01M78.4,233.5h.01M81.6,229.8h.01M75.5,241.9h.01M59.3,255.6h.01M80.5,244.2h.01M76.5,231.8h.01M69.9,240.8h.01M74.0,246.8h.01M68.0,229.2h.01M64.6,243.1h.01M66.0,231.1h.01M66.7,234.9h.01M67.1,243.9h.01M74.7,252.9h.01M80.1,224.9h.01M76.1,233.8h.01M62.3,257.2h.01M64.0,227.3h.01M66.1,227.4h.01M79.7,242.7h.01M83.5,243.1h.01M64.1,251.1h.01M63.7,232.2h.01M68.4,238.5h.01M81.5,230.4h.01M73.4,237.7h.01M67.9,243.1h.01M73.1,244.0h.01M70.5,232.4h.01M74.1,225.5h.01M62.8,231.1h.01M69.6,228.0h.01M65.9,216.6h.01M71.4,227.0h.01M62.3,241.0h.01M70.9,239.3h.01M71.4,225.8h.01M77.2,237.4h.01M70.2,232.4h.01M75.3,239.2h.01M81.0,243.7h.01M64.0,235.2h.01M78.9,233.4h.01M73.7,244.6h.01M71.3,240.7h.01M71.3,228.5h.01M81.7,236.3h.01M64.0,229.0h.01M73.5,224.3h.01M82.7,251.2h.01M83.2,245.5h.01M82.0,244.2h.01M83.2,231.8h.01M71.2,247.8h.01M69.2,251.8h.01M70.8,246.7h.01M70.8,219.4h.01M72.7,254.5h.01M81.0,259.6h.01M75.4,230.5h.01M68.2,249.4h.01M78.0,254.7h.01M61.0,229.8h.01M58.9,255.4h.01M74.1,231.8h.01M69.3,240.8h.01M90.7,260.7h.01M92.0,239.7h.01M79.5,255.2h.01M75.0,242.5h.01M68.2,232.8h.01M72.6,237.6h.01M71.7,260.9h.01M69.0,234.6h.01M62.7,237.7h.01M65.7,240.6h.01M61.7,262.4h.01M78.4,248.3h.01M77.0,248.4h.01M76.6,255.8h.01M79.8,255.1h.01M65.1,238.0h.01M62.9,250.1h.01M78.1,232.1h.01M82.0,223.9h.01M69.1,246.0h.01M69.7,242.9h.01M81.5,242.2h.01M59.3,247.0h.01M69.1,239.4h.01M64.5,220.5h.01M81.2,223.3h.01M62.9,244.7h.01M62.5,246.4h.01M65.3,241.9h.01M71.0,238.0h.01M69.6,255.9h.01M64.7,244.7h.01M71.6,244.1h.01M79.7,219.0h.01M72.7,235.7h.01M67.0,227.2h.01M62.3,225.0h.01M86.6,238.1h.01M77.2,225.6h.01M71.4,256.2h.01M69.6,225.3h.01M67.6,225.4h.01M66.1,227.7h.01M61.4,226.2h.01M72.3,255.6h.01M58.7,236.0h.01M71.0,245.1h.01M81.0,231.0h.01M72.9,229.2h.01M78.7,259.3h.01M72.0,235.1h.01M72.1,231.9h.01M74.3,246.1h.01M77.5,245.3h.01M74.0,223.1h.01M65.9,239.6h.01M66.3,224.6h.01M70.3,230.6h.01M65.9,226.7h.01M62.7,236.8h.01M63.7,246.6h.01M68.6,239.7h.01M74.0,254.1h.01M75.9,240.9h.01M68.4,227.8h.01M66.7,246.6h.01M72.2,233.1h.01M73.1,251.0h.01M73.6,220.6h.01M67.9,240.8h.01M61.1,242.4h.01M68.0,227.4h.01M73.5,226.8h.01M60.1,249.3h.01M75.8,234.1h.01M85.5,234.3h.01M59.7,251.8h.01M68.2,242.4h.01M70.4,225.3h.01M58.4,235.5h.01M83.7,225.3h.01M83.2,240.8h.01M59.2,241.4h.01M75.5,226.6h.01M59.2,243.6h.01M62.1,219.3h.01M67.7,240.2h.01M64.6,223.1h.01M72.1,215.9h.01M75.2,244.2h.01M86.3,249.2h.01M73.5,241.3h.01M70.3,221.2h.01M84.2,244.7h.01M67.2,223.5h.01M84.4,244.7h.01M58.5,246.5h.01M88.4,237.7h.01M73.9,232.7h.01M63.9,251.6h.01M68.8,248.0h.01M67.0,247.2h.01M78.0,225.2h.01M59.6,237.1h.01M78.1,241.5h.01M82.1,220.6h.01M74.8,230.1h.01M71.0,242.1h.01M60.6,235.1h.01M58.7,241.4h.01M61.7,231.8h.01M72.1,229.8h.01M81.1,230.0h.01M78.2,241.6h.01M60.0,235.2h.01M61.9,233.4h.01M67.4,260.9h.01M65.9,257.8h.01M74.3,221.5h.01M80.0,242.9h.01M68.0,234.8h.01M72.5,234.2h.01M64.8,233.3h.01M81.3,230.2h.01M73.7,223.5h.01M63.1,220.7h.01M68.1,246.6h.01M73.0,231.8h.01M75.9,233.6h.01M73.6,241.4h.01M67.7,231.1h.01M84.5,245.0h.01M88.4,244.4h.01M68.0,247.1h.01M62.4,232.4h.01M64.6,235.2h.01M77.5,231.9h.01M73.1,231.7h.01M68.0,240.1h.01M59.6,250.7h.01M72.1,254.1h.01M79.3,246.1h.01M68.6,224.3h.01M67.9,232.2h.01M72.4,232.2h.01M81.4,232.1h.01M67.7,249.6h.01M70.0,222.8h.01M74.0,235.5h.01M59.8,228.7h.01M74.7,241.8h.01M74.1,230.3h.01M72.3,236.5h.01M68.2,234.5h.01M64.5,250.3h.01M70.3,259.4h.01M77.6,258.6h.01M68.9,242.7h.01M65.8,235.9h.01M60.8,229.8h.01M81.7,241.3h.01M81.8,248.8h.01M78.9,250.6h.01M64.2,248.1h.01M66.9,231.4h.01M60.6,259.8h.01M78.0,227.4h.01M72.6,242.7h.01M73.6,233.5h.01M78.3,247.8h.01M76.4,251.8h.01M60.4,237.5h.01M73.3,250.5h.01M71.5,244.5h.01M72.2,259.5h.01M74.5,246.4h.01M79.8,240.5h.01M61.7,236.8h.01M73.2,234.5h.01M63.6,233.5h.01M69.1,233.5h.01M70.4,255.6h.01M72.9,237.6h.01M58.7,224.5h.01M73.6,227.1h.01M74.1,224.6h.01M71.3,237.1h.01M79.6,233.1h.01M66.4,241.1h.01M70.5,259.1h.01M67.5,231.3h.01M66.9,243.9h.01M72.3,246.7h.01M87.7,237.6h.01M58.4,239.9h.01M70.1,219.5h.01M74.4,255.3h.01M79.9,219.2h.01M83.3,249.3h.01M66.5,244.3h.01M84.6,233.9h.01M69.8,231.0h.01M83.7,225.9h.01M78.9,217.7h.01M61.0,230.5h.01M78.0,217.7h.01M75.8,230.1h.01M81.9,234.1h.01M74.7,235.9h.01M87.3,233.5h.01M70.7,246.6h.01M62.9,240.5h.01M63.8,219.2h.01M74.1,219.0h.01M87.5,229.3h.01M66.5,241.1h.01M59.1,217.8h.01M62.8,252.8h.01M79.2,218.2h.01M81.6,238.4h.01M74.8,238.6h.01M74.0,225.5h.01M61.3,229.2h.01M66.5,245.7h.01M58.3,257.9h.01M63.9,230.6h.01M76.8,243.4h.01M66.7,224.6h.01M60.4,218.0h.01M81.0,251.6h.01M88.0,244.2h.01M73.2,247.5h.01M79.2,234.8h.01M60.7,247.4h.01M81.4,233.8h.01M76.5,237.4h.01M72.9,231.2h.01M69.7,237.9h.01M70.0,250.1h.01M80.2,247.8h.01M77.8,226.1h.01M81.6,226.1h.01M82.4,246.3h.01M60.5,252.6h.01M63.4,228.7h.01M79.8,229.6h.01M87.8,246.6h.01M64.8,222.8h.01M82.5,224.7h.01M70.0,234.5h.01M67.5,244.3h.01M90.2,230.0h.01M78.2,251.6h.01M67.3,236.1h.01M64.9,229.8h.01M70.6,227.2h.01M60.0,234.3h.01M84.3,235.4h.01M75.1,219.6h.01M66.2,218.7h.01M69.0,245.6h.01M72.5,226.4h.01M77.7,250.1h.01M74.3,232.6h.01M69.6,230.1h.01M68.7,242.0h.01M67.1,250.2h.01M73.3,248.3h.01M76.2,235.0h.01M65.4,250.6h.01M76.0,244.4h.01M62.2,245.9h.01M77.7,235.7h.01M58.7,220.9h.01M67.7,244.9h.01M70.5,223.4h.01M70.1,227.6h.01M61.9,236.0h.01M64.7,230.6h.01M70.4,234.3h.01M76.0,223.1h.01M69.3,247.7h.01M81.4,245.0h.01M70.4,218.4h.01M76.6,245.2h.01M59.8,223.1h.01M71.5,225.1h.01M85.3,230.2h.01M64.6,248.9h.01M73.2,226.7h.01M78.0,262.2h.01M58.1,234.9h.01M76.1,246.8h.01M79.5,243.4h.01M63.5,223.2h.01M59.3,247.7h.01M78.7,253.8h.01M70.3,222.7h.01M87.2,221.4h.01M80.6,252.9h.01M66.1,220.9h.01M69.4,242.8h.01M69.0,246.9h.01M70.7,243.7h.01M73.0,226.4h.01M68.8,233.2h.01M74.7,228.2h.01M84.1,238.4h.01M75.2,246.0h.01M80.1,243.1h.01M88.2,244.0h.01M75.5,243.9h.01M63.7,229.4h.01M63.7,252.7h.01M73.6,260.6h.01M74.9,262.0h.01M74.5,223.0h.01M87.0,242.3h.01M81.7,240.7h.01M66.8,240.2h.01M59.0,222.8h.01M61.3,231.3h.01M88.1,237.4h.01M78.7,235.2h.01M73.8,237.6h.01M64.7,239.0h.01M67.2,224.2h.01M66.5,245.1h.01M63.3,244.1h.01M75.6,257.9h.01M59.3,236.6h.01M75.0,257.2h.01M72.6,247.6h.01M86.4,234.4h.01M91.3,228.7h.01M67.3,217.6h.01M76.3,241.4h.01M89.9,240.1h.01M67.5,219.9h.01M69.2,250.1h.01M77.3,253.7h.01M78.5,237.4h.01M76.0,240.2h.01M73.7,224.5h.01M73.8,241.7h.01M79.8,256.5h.01M85.1,225.8h.01M73.3,242.5h.01M59.0,232.0h.01M71.9,247.6h.01M91.7,241.8h.01M80.6,236.3h.01M68.9,225.3h.01M71.1,239.6h.01M73.0,254.8h.01M69.0,239.2h.01M78.5,218.0h.01M67.1,238.9h.01M79.5,227.7h.01M78.0,243.0h.01M72.1,247.3h.01M78.2,230.9h.01M80.6,248.6h.01M74.7,244.2h.01M59.7,222.6h.01M66.5,239.8h.01M69.5,233.7h.01M60.1,240.4h.01M62.6,219.8h.01M70.9,256.8h.01M66.0,224.3h.01M83.8,260.1h.01M67.1,235.3h.01M71.3,250.9h.01M59.0,222.1h.01M74.3,239.4h.01M87.8,234.5h.01M73.1,239.0h.01M72.8,257.1h.01M82.9,230.1h.01M76.8,233.1h.01M71.1,240.0h.01M70.2,231.9h.01M85.5,234.6h.01M77.0,259.8h.01M76.2,251.3h.01M83.8,252.1h.01M87.1,219.5h.01M89.5,238.4h.01M73.0,240.0h.01M62.0,235.0h.01M69.0,239.0h.01M69.9,235.1h.01M78.8,217.2h.01M65.1,239.7h.01M66.0,230.8h.01M65.6,240.7h.01M82.4,235.6h.01M67.3,242.6h.01M72.7,233.1h.01M64.3,246.2h.01M70.4,230.7h.01M70.1,236.5h.01M74.4,240.9h.01M65.2,221.6h.01M59.1,236.2h.01M58.5,247.8h.01M86.3,225.1h.01M69.5,234.8h.01M61.8,215.0h.01M69.9,249.0h.01M64.9,247.4h.01M79.0,245.9h.01M84.5,235.7h.01M85.4,228.9h.01M70.1,227.6h.01M70.0,251.4h.01M77.2,239.2h.01M87.0,218.8h.01M61.9,257.6h.01M73.4,222.6h.01M84.8,252.9h.01M64.5,254.8h.01M61.7,250.0h.01M75.8,236.3h.01M75.8,242.8h.01M77.7,238.9h.01M74.8,250.5h.01" stroke="#333" stroke-width="0.6" stroke-linecap="round" fill="none" opacity="0.55"/>
</g></g>
<clipPath id="cp2"><rect x="93.8" y="214.5" width="27.200000000000003" height="47.0"/></clipPath>
<g clip-path="url(#cp2)">
<ellipse cx="100" cy="222" rx="10" ry="8" fill="url(#gl)"/>
<ellipse cx="107" cy="246" rx="16" ry="15" fill="url(#gl)"/>
<g filter="url(#bl)">
<path d="M97.0,216.3h.01M99.8,215.3h.01M100.0,225.1h.01M107.5,223.1h.01M101.0,225.0h.01M107.0,220.7h.01M93.9,218.8h.01M93.7,218.4h.01M99.4,223.4h.01M100.8,222.3h.01M98.2,223.7h.01M104.4,225.0h.01M107.5,220.8h.01M98.7,228.8h.01M101.0,223.7h.01M98.3,225.9h.01M98.0,218.0h.01M99.7,220.2h.01M104.2,220.5h.01M100.6,221.1h.01M101.7,219.5h.01M105.5,216.3h.01M98.1,219.2h.01M103.2,222.2h.01M102.4,220.7h.01M96.4,217.5h.01M98.3,219.9h.01M101.4,223.4h.01M104.9,221.6h.01M96.3,217.8h.01M100.3,223.4h.01M109.7,222.7h.01M108.8,229.5h.01M94.8,226.8h.01M105.7,227.4h.01M100.0,225.8h.01M97.6,221.7h.01M100.1,229.1h.01M98.9,225.8h.01M100.3,219.2h.01M101.2,224.6h.01M96.4,224.5h.01M96.4,218.5h.01M101.1,221.1h.01M95.1,215.5h.01M100.1,223.0h.01M97.7,222.7h.01M102.1,223.1h.01M96.9,222.3h.01M100.7,226.3h.01M101.4,223.0h.01M96.4,225.4h.01M105.9,220.0h.01M103.2,223.2h.01M99.8,216.9h.01M108.8,214.5h.01M101.5,220.5h.01M105.7,220.3h.01M100.2,224.4h.01M102.3,219.9h.01M103.4,223.6h.01M104.9,220.0h.01M99.8,220.4h.01M95.8,223.0h.01M102.0,227.7h.01M98.4,223.5h.01M105.7,221.5h.01M100.3,222.5h.01M96.6,218.1h.01M105.6,222.7h.01M99.6,217.0h.01M100.6,226.7h.01M94.3,218.4h.01M105.5,227.7h.01M107.7,219.8h.01M103.0,219.0h.01M102.6,220.5h.01M101.0,227.3h.01M101.7,221.0h.01M100.3,223.1h.01M97.4,222.8h.01M103.0,228.2h.01M93.8,225.5h.01M112.1,222.8h.01M100.6,226.5h.01M97.5,220.1h.01M101.7,219.7h.01M105.5,222.0h.01M97.8,225.7h.01M95.9,227.0h.01M104.8,222.6h.01M104.9,228.4h.01M106.8,222.0h.01M99.7,226.4h.01M102.4,224.3h.01M109.2,229.0h.01M101.6,223.8h.01M101.3,221.1h.01M100.3,224.4h.01M95.3,219.8h.01M94.8,215.3h.01M103.8,221.2h.01M104.8,220.5h.01M110.5,224.8h.01M100.7,222.5h.01M99.0,225.2h.01M109.9,220.3h.01M94.6,224.4h.01M105.3,216.1h.01M96.6,218.1h.01M102.8,224.0h.01M96.4,217.5h.01M103.2,221.4h.01M109.5,225.9h.01M97.1,220.9h.01M98.6,219.1h.01M100.4,225.8h.01M107.4,224.9h.01M96.0,218.8h.01M95.8,215.7h.01" stroke="#333" stroke-width="0.6" stroke-linecap="round" fill="none" opacity="0.6"/>
<path d="M115.1,247.5h.01M100.5,235.7h.01M103.0,243.0h.01M119.6,243.4h.01M106.9,255.4h.01M111.3,245.6h.01M110.7,243.6h.01M105.3,239.5h.01M98.9,235.3h.01M109.9,251.1h.01M107.4,253.1h.01M110.2,248.0h.01M99.1,251.6h.01M115.3,252.0h.01M115.8,243.3h.01M98.3,256.8h.01M101.4,248.9h.01M104.5,247.2h.01M103.9,242.8h.01M98.9,238.2h.01M110.5,259.9h.01M104.1,252.8h.01M110.7,237.2h.01M115.6,233.8h.01M101.5,244.2h.01M115.9,247.9h.01M105.0,240.7h.01M106.7,247.3h.01M111.7,257.9h.01M111.8,247.1h.01M104.8,259.5h.01M107.6,246.9h.01M120.1,259.3h.01M110.5,246.1h.01M101.0,255.4h.01M102.5,254.5h.01M99.9,247.8h.01M109.2,248.1h.01M107.8,250.0h.01M97.2,238.3h.01M105.0,239.7h.01M100.8,247.3h.01M115.3,242.6h.01M110.4,248.5h.01M103.2,239.6h.01M104.8,241.3h.01M110.2,233.2h.01M114.8,252.9h.01M110.5,258.7h.01M110.7,233.6h.01M106.4,250.5h.01M100.7,238.2h.01M109.4,251.0h.01M102.7,245.1h.01M102.0,242.6h.01M105.6,255.4h.01M118.6,249.5h.01M107.2,253.5h.01M98.2,237.6h.01M107.9,253.6h.01M102.8,241.7h.01M109.2,251.8h.01M107.9,240.4h.01M100.9,258.7h.01M116.3,250.8h.01M108.2,248.3h.01M101.4,246.6h.01M120.9,240.2h.01M100.8,248.3h.01M113.0,253.5h.01M98.5,246.0h.01M103.9,237.4h.01M106.6,243.3h.01M113.2,250.4h.01M99.9,247.6h.01M103.2,242.1h.01M102.2,255.3h.01M102.8,233.7h.01M100.0,253.3h.01M103.2,244.4h.01M95.1,250.1h.01M105.6,249.2h.01M112.2,253.5h.01M101.1,242.4h.01M118.1,252.6h.01M107.1,238.5h.01M112.9,251.1h.01M112.3,249.1h.01M106.5,242.7h.01M108.4,248.9h.01M111.1,255.5h.01M108.4,242.8h.01M112.3,259.1h.01M99.5,250.3h.01M110.3,251.2h.01M109.9,246.3h.01M105.2,260.1h.01M119.5,236.1h.01M100.8,243.0h.01M93.6,249.8h.01M105.6,242.8h.01M117.5,256.1h.01M102.8,252.1h.01M105.7,256.0h.01M110.5,246.7h.01M110.3,241.4h.01M112.2,258.7h.01M103.2,251.3h.01M112.8,239.1h.01M119.6,247.9h.01M112.8,244.9h.01M114.6,235.0h.01M105.2,254.6h.01M100.7,252.3h.01M103.2,249.7h.01M96.4,253.1h.01M116.2,238.3h.01M104.2,233.7h.01M108.4,241.4h.01M101.6,240.5h.01M108.3,243.4h.01M99.0,245.2h.01M109.2,240.3h.01M114.6,234.1h.01M109.2,244.0h.01M118.2,242.0h.01M100.8,236.6h.01M97.6,244.4h.01M98.6,258.8h.01M107.6,254.1h.01M106.0,250.7h.01M105.1,248.6h.01M107.7,241.5h.01M108.7,248.3h.01M105.7,241.7h.01M98.1,248.9h.01M101.8,257.5h.01M113.1,241.5h.01M116.5,239.3h.01M102.6,245.3h.01M96.9,245.9h.01M103.2,242.3h.01M101.1,252.8h.01M117.9,243.8h.01M118.6,259.5h.01M116.4,249.3h.01M94.4,252.2h.01M102.8,248.5h.01M107.8,239.7h.01M108.3,260.0h.01M107.8,241.7h.01M98.8,250.2h.01M108.0,253.5h.01M99.8,258.4h.01M109.9,256.3h.01M94.1,247.0h.01M116.3,247.0h.01M107.4,242.1h.01M114.6,241.6h.01M94.3,260.9h.01M106.5,248.7h.01M101.9,245.4h.01M96.2,236.4h.01M96.4,252.0h.01M105.6,253.4h.01M97.6,251.6h.01M102.5,247.7h.01M113.3,247.3h.01M103.3,234.0h.01M106.5,253.1h.01M101.1,246.5h.01M109.2,257.1h.01M103.6,233.9h.01M103.0,234.8h.01M108.3,245.8h.01M114.1,244.0h.01M108.6,248.6h.01M109.5,235.5h.01M111.6,253.9h.01M99.0,258.7h.01M106.2,252.3h.01M110.4,254.0h.01M101.0,242.4h.01M109.0,251.8h.01M110.5,249.7h.01M102.2,255.7h.01M109.7,255.4h.01M100.8,247.9h.01M102.3,244.6h.01M107.5,249.7h.01M99.9,251.3h.01M99.4,250.4h.01M103.1,239.6h.01M115.2,260.1h.01M105.2,246.6h.01M113.6,236.5h.01M99.1,255.9h.01M113.1,243.1h.01M99.9,249.8h.01M94.9,243.1h.01" stroke="#666" stroke-width="0.6" stroke-linecap="round" fill="none" opacity="0.5"/>
</g></g>
<line x1="57.2" y1="200" x2="123.3" y2="200" stroke="#999" stroke-width="1.0" />
<line x1="123.3" y1="200" x2="123.3" y2="265.5" stroke="#999" stroke-width="1.0" />
<line x1="57.2" y1="199.5" x2="57.2" y2="266.0" stroke="#111" stroke-width="1.8" />
<line x1="57.2" y1="265.5" x2="123.3" y2="265.5" stroke="#222" stroke-width="1.3" />
<line x1="57.2" y1="231" x2="122.3" y2="231" stroke="#888" stroke-width="1.1" />
<line x1="121.2" y1="214.5" x2="121.2" y2="231" stroke="#999" stroke-width="1.3" />
<rect x="94.2" y="232.6" width="26.8" height="28.70000000000001" fill="none" stroke="#999" stroke-width="0.8"/>
<line x1="57.2" y1="261.3" x2="93" y2="261.3" stroke="#999" stroke-width="0.9" />
<line x1="93.2" y1="213.5" x2="93.2" y2="261.3" stroke="#111" stroke-width="1.6" />
<text x="108.30" y="219.20" font-size="6" text-anchor="start" font-weight="bold" fill="#111" textLength="10" lengthAdjust="spacingAndGlyphs" >LSK</text>
<text x="60.00" y="258.70" font-size="4.5" text-anchor="start" font-weight="normal" fill="#555" textLength="26" lengthAdjust="spacingAndGlyphs" >c-kit-, Sca-1-</text>
<text x="94.60" y="258.70" font-size="4.5" text-anchor="start" font-weight="normal" fill="#666" textLength="25.5" lengthAdjust="spacingAndGlyphs" >c-kit-, Sca-1+</text>
<text x="59.70" y="219.30" font-size="4.5" text-anchor="start" font-weight="normal" fill="#444" textLength="13" lengthAdjust="spacingAndGlyphs" >c-kit+</text>
<text x="44.81" y="204.20" font-size="6.7" font-weight="bold" fill="#000" stroke="#000" stroke-width="0.25">10<tspan font-size="4.22" dy="-2.4">4</tspan></text>
<text x="44.81" y="219.70" font-size="6.7" font-weight="bold" fill="#000" stroke="#000" stroke-width="0.25">10<tspan font-size="4.22" dy="-2.4">3</tspan></text>
<text x="44.81" y="234.70" font-size="6.7" font-weight="bold" fill="#000" stroke="#000" stroke-width="0.25">10<tspan font-size="4.22" dy="-2.4">2</tspan></text>
<text x="44.81" y="252.20" font-size="6.7" font-weight="bold" fill="#000" stroke="#000" stroke-width="0.25">10<tspan font-size="4.22" dy="-2.4">1</tspan></text>
<text x="73.45" y="274.70" font-size="6.5" font-weight="bold" fill="#000" stroke="#000" stroke-width="0.25">10<tspan font-size="4.09" dy="-2.4">1</tspan></text>
<text x="90.45" y="274.70" font-size="6.5" font-weight="bold" fill="#000" stroke="#000" stroke-width="0.25">10<tspan font-size="4.09" dy="-2.4">2</tspan></text>
<text x="106.75" y="274.70" font-size="6.5" font-weight="bold" fill="#000" stroke="#000" stroke-width="0.25">10<tspan font-size="4.09" dy="-2.4">3</tspan></text>
<text x="122.65" y="274.70" font-size="6.5" font-weight="bold" fill="#000" stroke="#000" stroke-width="0.25">10<tspan font-size="4.09" dy="-2.4">4</tspan></text>
<line x1="74" y1="265.5" x2="74" y2="267.1" stroke="#222" stroke-width="0.7" />
<line x1="92.8" y1="265.5" x2="92.8" y2="267.1" stroke="#222" stroke-width="0.7" />
<line x1="109" y1="265.5" x2="109" y2="267.1" stroke="#222" stroke-width="0.7" />
<clipPath id="cp3"><rect x="59.8" y="291.8" width="33.0" height="17.0"/></clipPath>
<g clip-path="url(#cp3)">
<ellipse cx="80" cy="300.3" rx="22" ry="13" fill="url(#gd)"/>
<ellipse cx="72" cy="300.3" rx="16" ry="12" fill="url(#gd)"/>
<g filter="url(#bl)">
<path d="M85.3,303.8h.01M68.6,294.5h.01M71.3,297.4h.01M81.8,302.0h.01M87.8,300.2h.01M69.6,300.2h.01M73.5,305.3h.01M91.6,295.6h.01M72.0,300.1h.01M70.6,304.7h.01M81.6,294.8h.01M73.9,303.6h.01M73.0,298.1h.01M87.4,307.1h.01M85.8,299.8h.01M83.9,302.7h.01M86.6,301.0h.01M60.7,295.0h.01M74.6,300.9h.01M77.0,301.0h.01M90.5,292.1h.01M83.0,299.8h.01M81.3,300.2h.01M84.1,301.6h.01M85.2,306.8h.01M71.8,301.7h.01M79.9,303.7h.01M78.5,295.7h.01M82.2,302.4h.01M71.3,307.2h.01M90.3,302.0h.01M79.0,297.9h.01M65.2,303.2h.01M71.2,296.3h.01M89.0,293.8h.01M75.3,304.4h.01M89.9,295.4h.01M83.5,302.2h.01M69.8,305.5h.01M82.4,292.3h.01M68.5,303.9h.01M66.8,295.2h.01M60.8,307.6h.01M74.1,295.8h.01M74.9,302.6h.01M79.0,307.5h.01M72.8,299.6h.01M83.3,298.1h.01M89.0,307.5h.01M62.4,293.5h.01M71.9,296.0h.01M83.5,298.3h.01M80.7,296.5h.01M79.3,302.2h.01M86.7,294.6h.01M79.0,294.7h.01M88.6,303.3h.01M78.9,295.2h.01M75.9,295.3h.01M69.5,302.8h.01M62.7,302.6h.01M62.1,307.8h.01M75.5,299.8h.01M80.0,295.9h.01M78.7,297.5h.01M91.2,298.7h.01M79.7,296.1h.01M74.3,294.9h.01M90.0,300.7h.01M81.9,298.3h.01M70.1,300.8h.01M81.9,302.3h.01M81.8,296.5h.01M84.2,305.8h.01M77.2,302.4h.01M89.2,296.4h.01M81.5,294.9h.01M85.4,297.1h.01M90.3,294.7h.01M72.4,293.9h.01M86.0,294.2h.01M79.8,294.9h.01M63.7,301.9h.01M87.3,307.0h.01M71.4,297.3h.01M82.4,302.1h.01M69.7,300.6h.01M79.0,305.0h.01M65.6,295.9h.01M75.5,297.4h.01M86.5,295.5h.01M87.6,305.4h.01M88.7,298.1h.01M72.5,297.8h.01M86.0,300.0h.01M85.2,302.7h.01M72.0,293.7h.01M72.5,293.7h.01M88.7,292.5h.01M72.2,305.6h.01M81.2,299.6h.01M74.2,298.0h.01M75.5,299.2h.01M86.9,291.7h.01M79.9,299.0h.01M89.0,301.2h.01M87.7,298.3h.01M78.9,299.0h.01M63.2,305.8h.01M65.8,293.3h.01M86.0,299.6h.01M72.1,298.8h.01M89.0,298.0h.01M78.9,297.2h.01M91.5,305.7h.01M79.3,302.7h.01M71.3,306.0h.01M92.6,299.0h.01M77.0,296.4h.01M78.3,291.8h.01M79.8,302.6h.01M82.8,302.2h.01M66.3,293.6h.01M85.7,305.3h.01M69.7,295.8h.01M70.4,303.2h.01M83.1,299.5h.01M74.2,301.4h.01M80.3,294.8h.01M83.0,295.3h.01M88.6,303.1h.01M73.8,302.8h.01M80.6,295.1h.01M69.8,301.4h.01M90.9,295.5h.01M81.4,301.4h.01M87.0,302.0h.01M91.0,303.9h.01M73.1,301.7h.01M80.2,302.8h.01M77.3,304.3h.01M91.9,294.3h.01M75.1,300.9h.01M84.4,300.2h.01M87.5,292.2h.01M87.0,306.3h.01M90.0,301.9h.01M77.9,301.7h.01M74.6,299.1h.01M75.4,293.7h.01M77.9,297.1h.01M80.6,299.0h.01M81.5,305.3h.01M81.2,301.7h.01M76.4,303.4h.01M76.9,295.6h.01M68.8,304.7h.01M75.3,300.8h.01M90.2,302.5h.01M88.6,303.5h.01M74.1,299.6h.01M74.9,293.2h.01M82.7,294.7h.01M75.1,299.8h.01M75.3,299.6h.01M81.4,296.5h.01M78.7,301.1h.01M67.5,294.5h.01M72.0,306.9h.01M70.5,306.3h.01M79.3,299.5h.01M92.2,304.5h.01M88.5,292.9h.01M79.1,296.4h.01M70.2,305.4h.01M82.6,299.3h.01M87.9,299.2h.01M87.9,293.3h.01M91.0,296.8h.01M83.6,306.2h.01M71.9,299.9h.01M72.5,304.4h.01M74.6,297.1h.01M78.2,306.3h.01M70.6,299.1h.01M77.0,296.0h.01M72.9,298.3h.01M82.1,292.2h.01M71.3,298.9h.01M77.7,305.2h.01M65.5,300.4h.01M82.3,305.7h.01M75.2,303.3h.01M70.4,307.1h.01M79.4,295.2h.01M72.4,291.9h.01M70.9,292.4h.01M79.5,301.4h.01M78.5,300.5h.01M90.7,297.6h.01M82.2,295.2h.01M77.8,301.8h.01M71.4,299.7h.01M78.7,306.2h.01M71.3,301.6h.01M82.1,302.5h.01M84.9,295.0h.01M74.7,301.0h.01M81.2,293.5h.01M71.6,301.5h.01M74.3,296.7h.01M88.9,300.1h.01M79.0,299.9h.01M69.4,306.6h.01M73.2,307.2h.01M75.9,296.6h.01M74.2,296.1h.01M85.5,296.9h.01M69.9,295.3h.01M78.9,300.8h.01M74.1,307.0h.01M71.4,295.0h.01M84.5,302.2h.01M76.5,305.1h.01M80.5,307.3h.01M78.2,300.5h.01M88.3,301.3h.01M81.8,307.6h.01M71.5,297.5h.01M81.3,296.6h.01M88.4,302.9h.01M80.1,299.7h.01M83.3,300.8h.01M73.5,304.0h.01M72.6,299.1h.01M76.8,292.4h.01M85.4,298.9h.01M69.5,298.8h.01M67.6,307.9h.01M74.9,303.5h.01M71.3,294.2h.01M79.2,301.8h.01M88.3,297.7h.01M89.9,305.1h.01M72.1,298.2h.01M75.1,304.6h.01M88.2,297.8h.01M75.6,301.4h.01M73.0,291.7h.01M71.3,301.3h.01M63.6,302.3h.01M69.7,306.2h.01M86.2,300.1h.01M75.3,293.0h.01M74.1,300.0h.01M86.0,306.9h.01M77.6,294.9h.01M77.0,296.7h.01M75.8,296.9h.01M72.2,299.0h.01M75.4,298.3h.01M67.6,300.2h.01M85.1,303.2h.01M75.1,292.5h.01M68.4,292.3h.01M74.3,297.5h.01M64.1,303.3h.01M66.2,295.2h.01M73.6,304.2h.01M77.6,297.0h.01M78.2,298.3h.01M79.0,294.6h.01M83.2,296.2h.01M85.1,292.9h.01M64.2,303.5h.01M75.8,292.4h.01M83.9,296.2h.01M86.6,296.1h.01M88.0,300.2h.01M83.2,300.2h.01M76.8,297.2h.01M84.0,303.5h.01M89.7,298.9h.01M82.1,294.6h.01M79.3,295.0h.01M68.3,296.6h.01M83.2,296.8h.01M76.9,292.9h.01M82.2,292.8h.01M83.3,295.3h.01M76.9,293.6h.01M81.0,303.4h.01M88.3,297.7h.01M69.4,298.9h.01M76.2,302.5h.01M71.6,307.3h.01M75.0,294.2h.01M74.9,298.8h.01M88.9,296.0h.01M64.2,298.8h.01M70.0,308.0h.01M86.0,302.0h.01M73.2,294.1h.01M71.5,304.8h.01M81.9,305.6h.01M68.4,296.7h.01M76.7,297.1h.01M81.3,294.4h.01M67.6,302.8h.01M85.6,298.2h.01M87.5,303.0h.01M74.9,299.1h.01M76.1,301.5h.01M84.8,306.5h.01M83.8,305.6h.01M70.6,297.8h.01M62.9,299.0h.01M80.8,300.9h.01M81.3,291.6h.01M73.9,298.3h.01M81.5,294.3h.01M79.1,295.0h.01M68.3,295.5h.01M72.9,304.3h.01M91.9,302.7h.01M78.1,296.1h.01M66.1,296.2h.01M82.0,297.9h.01M80.0,301.8h.01M79.9,301.8h.01M73.2,299.6h.01M76.9,305.6h.01M69.0,306.9h.01M79.2,296.4h.01M80.2,300.1h.01M77.9,301.8h.01M86.2,299.2h.01M62.3,306.6h.01M73.9,302.5h.01M70.3,298.8h.01M65.8,303.3h.01M85.0,293.3h.01M84.0,304.8h.01M87.1,295.4h.01M73.9,292.8h.01M68.6,301.2h.01M80.4,307.0h.01M82.4,297.5h.01M81.5,299.2h.01M71.1,293.2h.01M85.6,293.7h.01M85.2,303.0h.01M83.6,307.6h.01M72.7,292.0h.01M89.6,300.2h.01M74.5,306.5h.01M77.6,302.0h.01M76.4,295.0h.01M81.9,294.3h.01M64.3,296.2h.01M90.9,305.8h.01M76.2,302.1h.01M71.6,303.6h.01M76.0,300.9h.01M72.5,298.6h.01M88.7,298.1h.01M74.1,301.0h.01M87.8,298.3h.01M68.2,305.6h.01M79.2,302.1h.01M89.5,301.0h.01M84.3,296.4h.01M65.8,303.0h.01M79.2,302.7h.01M70.6,298.5h.01M80.9,307.0h.01M78.0,300.1h.01M61.2,303.9h.01M76.1,306.8h.01M79.2,297.2h.01M83.8,298.0h.01M88.7,300.0h.01M87.1,304.2h.01M85.1,299.6h.01M80.6,301.7h.01M85.0,301.4h.01M75.1,298.9h.01M84.0,293.7h.01M79.9,303.8h.01M81.5,297.7h.01M79.8,296.6h.01M88.7,297.2h.01M65.3,292.4h.01M82.6,300.6h.01M75.8,291.8h.01M78.7,294.5h.01M74.2,299.4h.01M73.2,301.2h.01M73.5,296.7h.01M78.0,307.8h.01M73.5,299.4h.01M88.1,304.0h.01M65.7,299.1h.01M73.5,303.7h.01M85.6,296.3h.01M75.4,296.7h.01M84.2,292.2h.01M83.1,303.4h.01M75.6,296.7h.01M66.2,301.5h.01M90.9,304.3h.01M88.1,303.5h.01M71.9,291.9h.01M85.6,300.3h.01M88.7,297.8h.01M72.2,301.9h.01M74.6,294.4h.01M70.2,296.2h.01M90.1,299.0h.01M83.5,295.5h.01M85.2,296.0h.01M82.4,292.7h.01M76.7,304.6h.01M87.5,291.9h.01M82.5,302.4h.01M74.3,297.6h.01M77.8,301.7h.01M88.1,307.2h.01M77.7,303.8h.01M78.9,299.9h.01M71.9,301.6h.01M79.8,299.4h.01M86.3,298.2h.01M80.0,300.6h.01M91.5,304.8h.01M70.7,295.8h.01M80.2,304.2h.01M88.5,298.2h.01M92.4,307.5h.01M64.3,295.9h.01M86.3,305.5h.01M79.1,305.3h.01M85.1,308.1h.01M66.0,294.7h.01M71.6,293.4h.01M72.7,297.1h.01M87.8,296.8h.01M86.5,302.5h.01M71.9,292.3h.01M70.6,301.5h.01M80.5,294.1h.01M89.7,304.6h.01M82.5,295.1h.01M83.4,301.6h.01M71.9,299.5h.01M64.9,302.9h.01M76.2,296.6h.01M85.5,298.6h.01M88.8,302.3h.01M90.2,300.1h.01M61.0,307.1h.01M65.0,305.3h.01M82.2,291.5h.01M80.6,304.4h.01M71.0,299.6h.01M73.5,293.7h.01M74.6,306.7h.01M86.1,299.2h.01M79.3,300.1h.01M82.5,300.4h.01M64.8,304.6h.01M86.2,292.5h.01M78.7,298.8h.01M74.8,302.4h.01M77.6,297.8h.01M71.6,297.8h.01M70.8,299.6h.01M91.7,305.1h.01M83.8,291.6h.01M89.1,304.7h.01M80.1,297.5h.01M89.6,293.2h.01M80.2,307.2h.01M74.5,302.8h.01M74.5,305.8h.01M90.5,295.9h.01M90.0,295.3h.01M82.2,299.2h.01M68.9,301.2h.01M72.7,294.5h.01M72.6,293.8h.01M87.9,299.8h.01M82.3,297.8h.01M80.6,297.8h.01M80.7,305.2h.01M67.9,297.8h.01M74.5,306.4h.01M86.5,298.0h.01M71.2,298.7h.01M70.8,308.2h.01M85.2,306.1h.01M87.1,299.9h.01M70.9,303.9h.01M82.9,298.3h.01M77.5,302.4h.01M85.1,303.1h.01M76.4,291.8h.01M91.7,306.8h.01M75.0,299.1h.01M82.4,295.3h.01M81.9,296.9h.01M88.0,298.8h.01M74.7,307.7h.01M73.4,297.3h.01M79.9,306.8h.01M91.8,308.2h.01M85.1,296.4h.01M91.3,306.5h.01M80.8,294.2h.01M86.0,302.1h.01M81.4,292.6h.01M82.1,296.1h.01M86.5,302.7h.01M83.9,296.9h.01M91.2,304.1h.01M85.9,301.6h.01M71.7,302.8h.01M88.1,300.4h.01M66.3,297.5h.01M86.2,303.5h.01M78.0,304.0h.01M79.6,295.1h.01M76.7,303.7h.01M88.4,292.8h.01M71.3,300.0h.01M68.9,301.7h.01M84.5,295.8h.01M79.8,302.1h.01M64.6,299.2h.01M85.3,304.6h.01M90.3,298.9h.01M67.3,307.0h.01M86.8,295.6h.01M89.1,305.3h.01M75.9,295.0h.01M72.6,298.8h.01M70.5,301.5h.01M89.2,296.2h.01M84.8,298.6h.01M91.3,295.2h.01M86.5,294.8h.01M82.0,299.2h.01M68.1,307.3h.01M70.9,300.5h.01M79.5,296.7h.01M86.3,298.7h.01M73.4,303.7h.01M63.2,293.5h.01M92.0,296.4h.01M77.2,301.4h.01M89.9,302.3h.01M71.5,296.0h.01M89.2,298.6h.01M74.4,304.3h.01M70.5,295.2h.01M73.9,301.3h.01M75.8,305.7h.01M74.3,297.7h.01M85.0,300.5h.01M71.1,307.9h.01M85.1,296.5h.01M81.8,292.9h.01M69.2,297.6h.01M83.2,299.9h.01M73.2,291.3h.01M83.2,294.7h.01M90.4,302.4h.01M76.4,295.8h.01M90.0,301.2h.01M74.9,295.9h.01M73.8,300.8h.01M82.2,302.8h.01M84.0,293.3h.01M78.2,293.9h.01M84.2,291.7h.01M74.9,294.4h.01M74.6,297.8h.01M67.4,297.6h.01M86.6,302.5h.01M89.7,299.8h.01M90.7,291.6h.01M78.5,294.3h.01M71.1,307.5h.01M65.2,294.4h.01M88.7,298.8h.01M81.3,299.2h.01M81.6,298.3h.01M71.4,297.6h.01M81.0,294.1h.01M65.6,296.2h.01" stroke="#111" stroke-width="0.66" stroke-linecap="round" fill="none" opacity="0.6"/>
<path d="M65.8,299.4h.01M68.7,295.1h.01M67.7,299.3h.01M67.3,308.2h.01M65.3,295.7h.01M67.3,295.4h.01M65.3,304.4h.01M74.1,302.4h.01M66.7,291.5h.01M74.0,307.9h.01M77.9,306.0h.01M70.2,301.5h.01M67.9,306.5h.01M74.0,297.5h.01M62.3,297.6h.01M87.0,294.6h.01M75.1,299.7h.01M65.7,302.9h.01M83.0,301.0h.01M67.5,300.2h.01M73.2,296.5h.01M68.9,302.2h.01M65.3,301.5h.01M70.6,303.4h.01M60.3,296.2h.01M64.7,306.2h.01M70.6,291.9h.01M60.9,300.1h.01M65.2,297.6h.01M82.9,293.6h.01M80.1,301.3h.01M68.7,306.7h.01M71.8,294.5h.01M72.0,307.2h.01M72.8,308.0h.01M74.2,300.5h.01M71.4,301.6h.01M63.1,298.6h.01M69.0,296.7h.01M71.9,302.3h.01M68.8,292.6h.01M74.6,297.0h.01M72.1,296.8h.01M79.5,307.1h.01M65.0,297.7h.01M71.6,298.6h.01M63.0,307.6h.01M85.9,303.1h.01M64.8,306.4h.01M77.2,300.4h.01M81.9,305.0h.01M64.3,293.6h.01M87.1,297.0h.01M71.2,298.6h.01M66.9,298.6h.01M75.6,296.3h.01M67.7,300.7h.01M73.6,297.1h.01M72.2,300.1h.01M81.1,299.0h.01M69.1,302.6h.01M77.5,294.0h.01M64.3,297.7h.01M76.3,299.4h.01M79.9,301.7h.01M73.9,305.0h.01M69.4,296.3h.01M73.9,294.9h.01M67.4,303.7h.01M73.6,299.0h.01M75.1,299.9h.01M66.4,302.1h.01M66.2,300.1h.01M76.1,296.0h.01M77.0,292.9h.01M70.8,306.6h.01M71.6,304.1h.01M72.0,298.9h.01M68.9,302.1h.01M78.2,295.2h.01M62.1,292.7h.01M64.2,297.9h.01M60.5,302.1h.01M62.9,303.9h.01M61.1,301.9h.01M71.4,298.8h.01M80.7,300.3h.01M61.1,303.3h.01M61.6,296.2h.01M68.1,300.4h.01M66.0,305.8h.01M66.8,301.2h.01M79.9,292.2h.01M68.3,303.9h.01M60.2,300.4h.01M76.1,304.6h.01M80.6,298.4h.01M63.7,300.2h.01M80.1,302.9h.01M81.2,303.9h.01M63.4,293.4h.01M65.3,297.5h.01M60.9,296.0h.01M67.5,296.3h.01M69.0,304.7h.01M61.6,296.9h.01M73.3,308.0h.01M74.8,297.7h.01M65.0,297.5h.01M63.3,295.1h.01M72.0,300.0h.01M63.4,297.9h.01M64.2,307.1h.01M75.8,295.1h.01M67.7,307.3h.01M71.5,303.2h.01M70.7,302.7h.01M71.8,302.4h.01M64.0,304.5h.01M68.5,293.2h.01M60.1,300.2h.01M63.3,302.5h.01M60.1,306.5h.01M69.3,302.9h.01M61.8,307.1h.01M67.5,299.2h.01M65.9,293.1h.01M73.6,301.3h.01M61.2,297.6h.01M68.1,304.3h.01M66.6,304.7h.01M65.8,296.9h.01M72.6,300.3h.01M67.5,306.6h.01M72.6,292.1h.01M62.6,301.2h.01M81.3,298.1h.01M66.7,300.8h.01M74.1,298.8h.01M70.3,296.8h.01M63.7,294.7h.01M73.1,296.1h.01M72.3,301.7h.01M60.5,292.2h.01M66.7,304.0h.01M87.8,308.3h.01M78.6,301.5h.01M65.0,302.4h.01M68.1,302.9h.01M60.0,292.9h.01M63.0,299.0h.01M70.7,297.2h.01M70.7,303.3h.01M75.1,295.1h.01M82.6,302.2h.01M75.0,299.9h.01M74.8,305.7h.01M68.8,296.2h.01M66.6,296.6h.01M64.1,301.2h.01M64.2,294.9h.01M71.2,302.0h.01M64.6,301.1h.01M60.4,304.3h.01M60.3,297.3h.01M69.1,296.9h.01M68.9,291.9h.01M70.4,291.7h.01M72.5,302.4h.01M81.4,306.3h.01M64.4,304.8h.01M64.4,298.6h.01M66.2,302.4h.01M62.9,303.3h.01M64.2,303.8h.01M73.5,295.5h.01M65.2,293.6h.01M76.7,291.5h.01M60.9,297.4h.01M70.1,294.4h.01M72.5,301.3h.01M70.2,298.9h.01M71.6,292.5h.01M83.2,306.5h.01M71.5,301.3h.01M62.6,291.7h.01M70.4,298.5h.01M73.9,299.6h.01M68.8,295.9h.01M73.4,305.4h.01M78.8,293.5h.01M60.7,303.4h.01M64.5,293.3h.01M85.0,299.9h.01M65.9,292.5h.01M70.7,296.5h.01M61.4,307.4h.01M71.4,294.1h.01M79.6,299.0h.01M71.9,300.2h.01M77.2,302.9h.01M65.3,303.5h.01M64.9,300.1h.01M80.8,293.1h.01M59.9,297.0h.01M64.1,306.9h.01M80.4,296.7h.01M69.5,297.2h.01M73.3,303.2h.01M73.9,303.8h.01M83.1,298.3h.01M73.5,298.2h.01M68.3,300.6h.01M67.6,301.3h.01M61.3,298.4h.01M63.3,292.5h.01M62.5,296.4h.01M66.0,292.7h.01M61.6,300.4h.01M76.7,301.0h.01M64.2,296.7h.01M63.0,299.6h.01M71.9,299.0h.01M75.5,299.5h.01M61.7,305.9h.01M79.7,306.8h.01M64.7,303.8h.01M77.2,302.2h.01M71.5,298.2h.01M68.0,300.7h.01M73.9,297.7h.01M61.0,297.2h.01M83.5,295.3h.01M76.2,300.0h.01M73.8,297.7h.01M60.9,305.2h.01M65.9,297.1h.01M70.7,298.2h.01M65.6,294.1h.01M70.0,301.2h.01M82.3,299.1h.01M85.9,296.7h.01M61.7,298.3h.01M72.5,294.2h.01M77.8,300.4h.01M64.0,297.8h.01M75.6,296.3h.01M71.3,305.0h.01M60.9,295.8h.01M71.5,299.3h.01M67.0,296.2h.01M68.4,299.8h.01M67.0,300.2h.01M62.7,301.1h.01M68.8,301.6h.01M66.7,296.6h.01M69.5,305.7h.01M75.1,298.8h.01M64.3,305.5h.01M72.2,304.5h.01M65.8,294.2h.01M69.5,295.6h.01M77.0,304.3h.01M78.5,305.4h.01M64.3,294.2h.01M75.6,305.3h.01M68.5,292.5h.01M61.5,295.3h.01M71.5,305.5h.01M78.2,299.1h.01M65.3,303.1h.01M76.0,299.3h.01M75.9,296.9h.01M70.1,304.6h.01M70.9,299.1h.01M64.9,305.7h.01M78.8,295.5h.01M71.1,299.3h.01M76.3,300.8h.01M77.6,300.5h.01M64.4,296.3h.01M73.1,294.4h.01M75.3,297.9h.01M60.7,294.2h.01M74.1,299.4h.01M65.8,299.3h.01M64.7,307.1h.01M69.4,296.6h.01M69.5,293.4h.01M59.7,298.4h.01M83.6,292.8h.01M69.4,300.5h.01M73.8,291.5h.01M63.3,295.5h.01M66.4,299.1h.01M64.0,304.0h.01M88.1,306.1h.01M80.0,293.0h.01M76.3,299.5h.01M77.8,305.5h.01M69.1,296.4h.01M71.5,299.5h.01M62.2,298.9h.01M70.5,296.9h.01M67.8,299.6h.01M76.2,298.6h.01M71.2,298.7h.01M68.0,295.0h.01M64.7,304.2h.01M70.8,299.1h.01M64.2,300.5h.01M77.4,299.2h.01M65.1,292.4h.01M68.8,293.9h.01M67.2,291.5h.01M71.2,300.6h.01M66.5,302.2h.01M80.1,302.2h.01M73.1,291.9h.01M69.5,307.0h.01M63.0,302.2h.01M70.9,303.4h.01M65.2,299.2h.01M64.8,306.4h.01M67.8,299.5h.01M82.1,298.0h.01M70.7,301.4h.01M70.0,308.0h.01M69.1,300.2h.01M67.1,299.3h.01M67.6,305.2h.01M68.2,299.7h.01M67.6,303.8h.01M64.3,304.8h.01M63.5,303.4h.01M83.1,300.7h.01M67.3,292.3h.01M73.8,299.4h.01M75.2,295.4h.01M71.2,297.4h.01M73.2,302.8h.01M60.3,293.3h.01M65.8,300.9h.01M83.2,300.5h.01M80.2,304.0h.01M71.5,304.2h.01M67.3,307.1h.01M65.3,295.4h.01M65.3,301.2h.01M69.5,295.6h.01M72.2,303.0h.01M60.8,292.7h.01M68.1,295.2h.01M63.2,298.5h.01M68.2,302.7h.01M74.6,301.9h.01M76.8,293.6h.01M72.8,301.5h.01M59.8,295.3h.01M71.5,299.7h.01M80.1,304.3h.01M68.6,307.3h.01M60.8,298.3h.01M75.6,297.3h.01M69.2,291.9h.01M88.6,295.3h.01M68.4,295.1h.01M60.2,296.6h.01M59.6,299.7h.01M69.9,294.8h.01M63.4,293.2h.01M76.1,296.9h.01M66.9,300.4h.01M66.6,301.9h.01M65.0,299.5h.01M72.1,305.0h.01M62.6,305.1h.01M60.2,298.2h.01M69.0,300.2h.01M66.5,304.8h.01M62.4,308.3h.01M72.3,299.4h.01M70.1,304.8h.01M61.6,302.8h.01M76.4,297.9h.01M61.2,293.0h.01M71.4,294.5h.01M87.6,302.7h.01M80.1,303.3h.01M59.9,305.4h.01M63.6,302.8h.01M72.5,296.7h.01M66.8,306.2h.01M71.9,298.9h.01M75.4,302.1h.01M69.1,296.4h.01M73.8,295.7h.01M71.5,293.1h.01M75.1,295.0h.01M67.8,302.7h.01" stroke="#222" stroke-width="0.66" stroke-linecap="round" fill="none" opacity="0.6"/>
</g></g>
<clipPath id="cp4"><rect x="59.8" y="310.3" width="33.0" height="28.200000000000045"/></clipPath>
<g clip-path="url(#cp4)">
<ellipse cx="76" cy="318.3" rx="24" ry="24" fill="url(#gh)"/>
<ellipse cx="82" cy="318.3" rx="18" ry="13" fill="url(#gd)"/>
<ellipse cx="74" cy="316.3" rx="12" ry="9" fill="url(#gd)"/>
<g filter="url(#bl)">
<path d="M77.8,318.4h.01M87.3,332.3h.01M67.5,311.2h.01M84.7,325.7h.01M76.7,319.0h.01M78.7,336.3h.01M89.0,315.2h.01M82.6,323.4h.01M85.5,325.6h.01M73.2,313.9h.01M76.2,319.1h.01M75.2,332.4h.01M82.6,318.0h.01M74.1,323.9h.01M79.5,331.5h.01M83.2,315.8h.01M61.7,317.5h.01M85.9,312.7h.01M86.1,323.7h.01M67.8,316.8h.01M82.2,324.3h.01M81.1,318.2h.01M77.6,316.0h.01M84.4,315.7h.01M83.6,314.3h.01M82.8,319.3h.01M86.2,322.0h.01M86.5,317.0h.01M79.6,316.2h.01M71.3,317.3h.01M87.5,324.4h.01M74.1,320.7h.01M82.4,320.9h.01M85.2,320.3h.01M88.8,328.3h.01M89.5,318.0h.01M83.6,322.1h.01M86.6,326.3h.01M81.0,318.4h.01M85.4,317.2h.01M78.7,334.3h.01M89.5,327.4h.01M87.2,312.1h.01M79.4,317.8h.01M72.4,311.4h.01M83.7,322.0h.01M78.4,315.6h.01M84.2,322.1h.01M68.8,334.4h.01M75.5,315.4h.01M67.4,312.0h.01M74.9,324.6h.01M77.1,314.4h.01M74.6,314.8h.01M69.1,320.4h.01M88.3,319.5h.01M76.3,328.2h.01M76.0,313.5h.01M79.7,327.8h.01M75.1,317.1h.01M76.7,323.1h.01M84.9,316.0h.01M88.9,323.2h.01M77.3,311.8h.01M70.1,322.7h.01M83.6,324.7h.01M77.2,316.4h.01M81.1,324.3h.01M89.8,320.5h.01M65.2,312.3h.01M71.7,320.2h.01M78.5,327.1h.01M87.5,314.7h.01M86.5,318.4h.01M83.2,328.9h.01M72.1,317.8h.01M90.6,312.3h.01M81.5,319.3h.01M75.3,310.6h.01M87.5,320.3h.01M83.5,319.4h.01M87.3,312.6h.01M85.6,329.1h.01M92.5,311.0h.01M86.7,323.0h.01M82.4,311.5h.01M88.7,330.9h.01M79.8,317.4h.01M88.2,322.3h.01M89.3,315.1h.01M82.4,315.7h.01M76.1,316.0h.01M78.0,322.3h.01M77.9,318.9h.01M89.9,310.6h.01M92.6,325.7h.01M64.2,313.3h.01M77.1,318.5h.01M78.8,313.6h.01M88.7,317.3h.01M86.7,312.9h.01M75.2,328.8h.01M78.8,326.5h.01M78.9,312.7h.01M84.4,326.0h.01M78.6,315.8h.01M78.7,332.0h.01M79.0,321.5h.01M65.9,319.7h.01M80.4,315.8h.01M69.7,319.6h.01M75.6,317.6h.01M78.8,314.3h.01M75.0,332.8h.01M72.4,314.3h.01M73.4,325.1h.01M86.5,319.3h.01M88.5,311.9h.01M87.5,331.5h.01M77.4,332.4h.01M79.7,312.0h.01M79.8,326.5h.01M78.2,320.7h.01M71.2,318.9h.01M81.9,316.2h.01M73.3,327.8h.01M72.0,316.3h.01M79.7,324.0h.01M76.9,311.9h.01M85.5,317.1h.01M76.7,318.0h.01M78.3,320.7h.01M62.4,318.1h.01M80.5,310.7h.01M77.3,336.6h.01M81.6,315.9h.01M89.6,314.8h.01M74.4,323.7h.01M73.3,312.1h.01M79.6,319.2h.01M78.5,315.7h.01M74.8,325.1h.01M84.5,317.4h.01M78.4,316.2h.01M69.4,313.4h.01M86.5,329.6h.01M82.8,324.8h.01M73.7,332.4h.01M81.1,311.8h.01M82.4,318.2h.01M85.8,321.0h.01M75.6,324.5h.01M85.3,310.5h.01M74.9,312.0h.01M63.0,323.3h.01M78.5,327.9h.01M76.2,318.9h.01M85.0,325.9h.01M89.4,330.9h.01M89.7,321.5h.01M83.3,323.2h.01M69.7,324.7h.01M73.3,321.6h.01M73.1,323.9h.01M76.7,337.7h.01M81.4,322.3h.01M73.8,316.1h.01M79.6,316.1h.01M77.0,311.5h.01M85.3,315.3h.01M74.4,321.2h.01M74.4,316.9h.01M76.5,311.1h.01M78.5,311.9h.01M71.4,321.1h.01M77.3,319.8h.01M83.0,321.2h.01M81.8,323.0h.01M76.6,312.1h.01M84.3,315.1h.01M80.1,323.4h.01M86.5,327.8h.01M75.3,315.4h.01M71.4,323.0h.01M75.8,311.1h.01M85.6,322.4h.01M86.4,315.7h.01M78.1,315.7h.01M75.3,323.8h.01M74.7,317.8h.01M80.9,322.4h.01M80.8,316.8h.01M86.8,310.4h.01M74.5,312.5h.01M76.5,320.3h.01M74.6,316.4h.01M90.2,329.5h.01M67.2,310.9h.01M77.5,328.4h.01M77.8,333.2h.01M82.6,329.5h.01M74.2,315.9h.01M87.1,322.8h.01M67.2,316.2h.01M81.3,323.2h.01M75.7,331.8h.01M81.1,329.6h.01M82.8,319.0h.01M86.0,324.2h.01M86.5,315.4h.01M73.2,315.4h.01M77.9,318.2h.01M86.8,311.2h.01M76.7,323.7h.01M86.3,335.5h.01M83.7,311.7h.01M72.9,312.2h.01M80.6,320.3h.01M79.6,313.6h.01M78.8,317.7h.01M84.2,319.0h.01M90.3,317.6h.01M78.9,318.1h.01M87.8,315.9h.01M81.3,316.5h.01M84.1,310.5h.01M81.5,326.3h.01M88.2,323.1h.01M82.1,330.5h.01M84.9,329.2h.01M85.6,316.3h.01M77.1,311.0h.01M78.9,335.7h.01M73.2,330.9h.01M70.1,327.0h.01M81.2,316.9h.01M87.8,319.1h.01M91.0,327.1h.01M92.3,327.0h.01M80.6,322.5h.01M72.0,324.1h.01M63.9,311.9h.01M71.3,317.8h.01M73.0,320.2h.01M78.7,314.7h.01M78.1,321.2h.01M87.3,323.8h.01M84.7,330.5h.01M82.8,314.3h.01M75.7,326.6h.01M75.5,333.5h.01M74.3,323.5h.01M81.3,327.4h.01M78.2,311.0h.01M75.7,310.4h.01M77.9,328.1h.01M84.6,316.9h.01M84.4,320.4h.01M87.8,331.1h.01M78.0,318.0h.01M78.9,327.8h.01M82.7,324.4h.01M86.3,313.4h.01M81.0,329.0h.01M86.4,324.6h.01M78.2,315.5h.01M74.3,316.2h.01M88.1,312.4h.01M81.8,323.0h.01M86.7,321.5h.01M78.4,327.1h.01M86.2,310.9h.01M78.3,329.2h.01M74.4,324.7h.01M69.8,316.0h.01M86.6,331.6h.01M83.2,324.2h.01M68.4,332.9h.01M80.6,320.3h.01M80.3,313.6h.01M80.0,317.4h.01M84.7,323.6h.01M86.8,322.9h.01M73.5,329.1h.01M61.9,319.2h.01M82.4,314.2h.01M72.1,314.4h.01M83.0,324.5h.01M80.9,323.5h.01M75.3,313.6h.01M81.4,315.3h.01M84.8,310.5h.01M76.5,313.9h.01M77.6,310.6h.01M83.8,323.5h.01M80.0,316.9h.01M74.1,310.9h.01M78.6,311.3h.01M72.1,319.6h.01M80.0,315.2h.01M74.6,317.9h.01M75.4,315.0h.01M81.4,323.9h.01M85.3,313.6h.01M78.9,328.4h.01M77.7,315.4h.01M71.9,317.2h.01M77.2,312.5h.01M88.2,312.3h.01M91.6,324.8h.01M84.5,313.8h.01M82.0,316.2h.01M82.7,313.1h.01M65.3,322.0h.01M88.8,315.6h.01M73.3,323.8h.01M75.1,318.0h.01M79.1,333.7h.01M70.7,313.0h.01M87.6,318.7h.01M84.7,317.3h.01M77.2,319.0h.01M79.6,333.2h.01M92.3,321.2h.01M79.3,336.8h.01M74.7,324.6h.01M88.4,315.2h.01M78.6,314.8h.01M85.5,318.5h.01M90.3,327.5h.01M80.0,338.4h.01M78.0,313.6h.01M78.5,311.5h.01M77.3,317.8h.01M70.6,312.3h.01M78.0,321.8h.01M74.8,330.0h.01M76.5,316.6h.01M80.5,327.4h.01M82.1,318.5h.01M76.4,319.6h.01M82.8,315.6h.01M76.5,327.5h.01M89.7,317.7h.01M65.5,332.5h.01M78.9,338.2h.01M77.3,326.1h.01M75.9,328.9h.01M82.0,315.2h.01M87.4,321.8h.01M78.9,329.2h.01M73.8,323.6h.01M70.9,315.8h.01M84.4,314.2h.01M79.3,323.3h.01M90.4,328.4h.01M83.2,316.3h.01M70.3,331.6h.01M85.9,318.0h.01M84.8,320.8h.01M78.8,318.3h.01M79.8,327.4h.01M78.3,314.1h.01M84.5,323.3h.01M83.0,320.5h.01M90.0,327.0h.01M81.5,316.7h.01M76.6,312.8h.01M81.2,315.3h.01M82.8,335.8h.01M80.1,315.8h.01M88.4,324.7h.01M86.3,327.7h.01M77.6,313.2h.01M75.2,319.1h.01M73.1,313.3h.01M78.5,327.8h.01M80.2,319.1h.01M66.0,316.2h.01M79.1,312.9h.01M70.7,317.7h.01M73.2,314.1h.01M69.3,317.6h.01M86.2,311.8h.01M84.0,322.5h.01M77.5,325.2h.01M74.2,318.7h.01M91.4,318.1h.01M72.5,327.3h.01M83.7,316.1h.01M69.8,329.9h.01M82.0,311.7h.01M87.8,329.7h.01M74.4,322.1h.01M69.0,321.2h.01M80.4,313.4h.01M79.4,319.0h.01M81.9,325.2h.01M83.5,326.5h.01M86.9,326.9h.01M75.5,321.5h.01M77.6,311.7h.01M78.5,324.3h.01M78.7,314.1h.01M90.0,315.9h.01M77.8,317.5h.01M78.5,326.5h.01M83.9,317.8h.01M77.6,316.5h.01M91.4,315.9h.01M82.2,323.7h.01M88.6,320.8h.01M83.9,320.8h.01M87.2,334.3h.01M81.4,311.9h.01M84.1,317.4h.01M84.4,324.4h.01M81.1,314.9h.01M81.9,311.4h.01M83.1,319.3h.01M80.4,313.0h.01M79.1,323.7h.01M86.3,328.9h.01M87.6,320.5h.01M79.5,331.9h.01M80.7,320.5h.01M85.3,313.7h.01M69.9,316.9h.01M89.1,313.1h.01M68.1,317.0h.01M78.2,318.4h.01M73.1,315.9h.01M76.4,325.2h.01M81.1,325.1h.01M67.0,322.5h.01M85.9,325.1h.01M76.8,321.5h.01M89.3,315.6h.01M76.3,312.3h.01M86.9,325.1h.01M67.9,327.8h.01M69.4,312.6h.01M71.7,313.1h.01M81.1,321.5h.01M77.3,313.0h.01M68.1,319.4h.01M90.2,325.6h.01M89.8,319.2h.01M77.3,317.6h.01M70.9,324.1h.01M81.9,315.9h.01M67.6,317.4h.01M91.0,329.6h.01M85.9,315.6h.01M81.0,322.6h.01M81.4,326.5h.01M63.8,311.2h.01M70.8,323.5h.01M87.3,318.3h.01M83.7,318.9h.01M81.2,314.6h.01M77.4,327.6h.01M78.3,318.0h.01M88.1,326.0h.01M77.5,320.3h.01M73.3,319.3h.01M82.2,318.3h.01M81.2,321.2h.01M63.1,311.9h.01M80.6,314.5h.01M73.6,316.4h.01M90.9,316.5h.01M75.7,314.6h.01M72.1,322.1h.01M73.5,325.4h.01M86.2,322.8h.01M87.0,317.6h.01M68.3,317.8h.01M71.9,326.9h.01M83.0,328.8h.01M84.6,318.8h.01M83.0,324.9h.01M79.9,316.7h.01M82.2,315.8h.01M87.1,315.1h.01M81.2,316.6h.01M80.7,313.8h.01M87.4,323.2h.01M71.6,310.7h.01M83.9,327.7h.01M85.2,317.1h.01M76.5,310.7h.01M73.2,322.7h.01M82.0,320.5h.01M79.2,323.2h.01M85.4,313.8h.01M86.4,311.0h.01M80.4,328.6h.01M75.0,332.2h.01M89.6,321.3h.01M76.1,325.4h.01M60.8,312.3h.01M86.6,318.0h.01M71.1,316.6h.01M84.0,331.7h.01M68.2,319.5h.01M88.6,313.0h.01M85.3,324.8h.01M84.1,320.2h.01M86.8,317.3h.01M84.9,324.7h.01M88.9,322.3h.01M80.7,323.9h.01M91.1,319.4h.01M73.0,313.7h.01M79.1,318.9h.01M74.9,326.1h.01M72.7,331.3h.01M71.8,318.8h.01M81.9,315.0h.01M80.2,319.6h.01M72.3,318.8h.01M73.2,323.5h.01M89.3,326.5h.01M75.8,317.7h.01M81.5,316.7h.01M82.8,326.8h.01M83.8,318.2h.01M78.7,332.4h.01M71.7,334.1h.01M85.1,319.0h.01M75.0,332.7h.01M88.4,325.5h.01M80.8,315.9h.01M75.1,318.9h.01M83.8,322.4h.01M83.9,323.1h.01M81.4,324.2h.01M83.5,328.8h.01M73.0,312.9h.01M75.9,329.2h.01M82.1,317.5h.01M76.2,318.7h.01M88.9,315.6h.01M82.1,311.4h.01M92.6,329.2h.01M89.4,313.5h.01M89.1,314.8h.01M80.5,321.5h.01M86.3,325.5h.01M79.5,324.5h.01M86.9,310.5h.01M72.9,321.7h.01M74.0,321.4h.01M76.7,330.3h.01M80.2,319.3h.01M78.8,311.4h.01M89.8,331.9h.01M74.9,320.9h.01M73.8,325.1h.01M74.2,317.2h.01M89.2,322.5h.01M69.0,327.9h.01M83.7,318.8h.01M88.8,319.5h.01M75.0,317.5h.01M79.4,318.2h.01M82.0,316.3h.01M75.3,310.4h.01M67.0,314.6h.01M89.7,328.2h.01M73.3,334.6h.01M80.2,310.3h.01M67.9,316.2h.01M88.1,321.8h.01M69.9,313.0h.01M74.8,327.4h.01M79.4,310.5h.01M74.2,325.5h.01M66.7,319.8h.01M79.3,324.8h.01M72.1,325.6h.01M91.0,336.6h.01M68.7,318.1h.01M78.6,319.3h.01M73.1,325.2h.01M73.4,313.7h.01M85.2,319.4h.01M74.7,328.2h.01M83.7,326.5h.01M78.8,328.5h.01M88.9,324.2h.01M68.3,319.7h.01M86.0,315.4h.01M83.0,313.6h.01M79.6,317.6h.01M83.5,310.5h.01M72.1,320.9h.01M76.5,322.5h.01M85.2,320.4h.01M85.2,315.6h.01M77.5,328.4h.01M68.2,332.2h.01M83.7,317.8h.01M80.7,323.1h.01M74.6,320.5h.01M81.5,319.1h.01M84.6,322.8h.01M85.0,324.6h.01M72.6,328.1h.01M71.2,323.8h.01M86.5,326.4h.01M82.7,322.0h.01M88.8,311.1h.01M80.2,315.3h.01M78.9,317.1h.01M79.8,318.8h.01M75.1,313.1h.01M73.9,331.2h.01M86.5,316.8h.01M73.2,322.1h.01M75.8,330.2h.01M87.8,317.3h.01M84.3,311.9h.01M68.9,325.1h.01M91.5,315.9h.01M73.2,316.7h.01M88.6,318.7h.01M79.9,318.5h.01M86.0,318.0h.01M81.1,317.7h.01M72.2,329.1h.01M76.9,318.6h.01M71.1,319.7h.01M72.0,319.7h.01M73.8,330.2h.01M72.6,326.7h.01M69.2,330.2h.01M91.3,313.2h.01M75.2,323.4h.01M71.3,322.7h.01M88.6,320.4h.01M82.3,317.0h.01M87.1,311.7h.01M91.2,318.1h.01M76.9,320.2h.01M79.1,312.8h.01M71.6,318.3h.01M74.7,325.3h.01M61.0,324.2h.01M83.7,315.6h.01M80.9,310.5h.01M72.6,312.4h.01M79.6,311.5h.01M77.1,311.4h.01M79.9,319.1h.01M86.8,312.3h.01M85.3,313.3h.01M86.9,317.7h.01M75.2,324.6h.01M75.7,323.7h.01M68.4,326.5h.01M76.3,313.0h.01M73.9,324.7h.01M81.0,324.3h.01M70.5,322.0h.01M80.2,318.9h.01M74.3,326.5h.01M83.5,327.5h.01M77.5,323.9h.01M79.6,310.7h.01M78.7,319.7h.01M70.7,312.4h.01M65.4,313.1h.01M74.7,312.8h.01M79.2,317.7h.01M74.8,312.5h.01M68.2,311.6h.01M89.1,329.7h.01M78.0,324.0h.01M83.2,319.2h.01M79.0,328.1h.01M84.0,316.5h.01M78.4,325.8h.01M75.8,312.5h.01M78.1,314.3h.01M88.9,321.2h.01M79.4,314.1h.01M89.9,321.8h.01M78.5,313.9h.01M78.0,319.8h.01M85.6,322.2h.01M72.8,313.5h.01M75.4,310.5h.01M69.3,327.4h.01M77.8,326.0h.01M75.8,325.4h.01M76.1,321.5h.01M72.4,329.5h.01M83.0,326.7h.01" stroke="#111" stroke-width="0.66" stroke-linecap="round" fill="none" opacity="0.6"/>
<path d="M71.2,336.4h.01M74.7,316.9h.01M67.6,322.9h.01M75.3,330.1h.01M71.1,331.6h.01M76.6,311.7h.01M67.5,324.3h.01M82.4,328.3h.01M70.3,334.4h.01M88.5,327.7h.01M73.4,330.6h.01M71.4,320.3h.01M88.7,315.5h.01M64.5,322.7h.01M85.2,328.8h.01M74.7,316.9h.01M86.4,332.1h.01M80.1,315.3h.01M61.1,319.0h.01M73.8,335.3h.01M61.3,318.4h.01M92.2,324.3h.01M68.4,324.4h.01M81.8,311.2h.01M82.5,325.7h.01M81.3,335.7h.01M74.5,324.9h.01M78.1,327.4h.01M63.3,319.3h.01M72.5,322.7h.01M66.5,320.8h.01M76.9,324.3h.01M79.9,331.3h.01M79.6,332.9h.01M82.4,337.7h.01M80.3,315.5h.01M86.5,330.3h.01M78.4,318.4h.01M63.0,327.4h.01M79.7,313.5h.01M73.9,325.1h.01M75.6,328.1h.01M81.8,318.2h.01M70.1,311.4h.01M81.5,328.8h.01M73.6,325.7h.01M77.2,319.7h.01M82.8,317.8h.01M72.8,320.3h.01M75.6,326.9h.01M85.4,328.0h.01M89.2,335.5h.01M72.9,310.7h.01M78.3,332.9h.01M80.9,316.2h.01M88.6,324.7h.01M71.8,318.1h.01M81.0,336.0h.01M71.9,334.8h.01M80.8,324.4h.01M71.1,317.8h.01M68.3,314.3h.01M59.9,335.6h.01M62.3,326.8h.01M70.8,319.5h.01M76.5,320.4h.01M84.9,333.1h.01M71.7,316.2h.01M77.6,310.5h.01M72.6,318.0h.01M63.1,334.6h.01M70.0,327.3h.01M68.7,323.9h.01M69.5,323.1h.01M73.0,314.8h.01M78.4,320.2h.01M64.3,310.7h.01M78.4,337.0h.01M60.8,317.7h.01M78.5,333.8h.01M74.4,332.2h.01M76.4,319.8h.01M62.1,324.1h.01M73.3,322.6h.01M89.1,335.4h.01M66.0,324.8h.01M70.9,323.4h.01M90.4,332.4h.01M74.4,315.0h.01M72.4,326.3h.01M69.0,334.5h.01M71.3,321.0h.01M83.9,334.6h.01M77.2,323.5h.01M84.2,322.0h.01M61.3,317.3h.01M80.7,329.0h.01M62.9,335.5h.01M78.7,333.4h.01M79.3,318.9h.01M65.9,334.7h.01M76.3,322.2h.01M70.0,310.9h.01M85.1,330.7h.01M71.7,311.2h.01M83.8,337.6h.01M76.7,314.2h.01M81.1,316.8h.01M86.7,318.3h.01M75.9,311.9h.01M61.2,326.1h.01M77.5,311.6h.01M79.6,317.7h.01M68.4,321.5h.01M78.0,330.3h.01M86.4,326.5h.01M66.7,314.7h.01M72.3,318.1h.01M73.0,324.3h.01M82.9,333.4h.01M63.3,333.7h.01M74.6,313.5h.01M68.2,334.1h.01M76.6,318.2h.01M85.5,311.9h.01M65.5,316.1h.01M66.5,329.9h.01M71.7,310.7h.01M75.7,323.4h.01M80.1,319.7h.01M78.0,312.0h.01M74.2,324.0h.01M61.8,328.8h.01M75.4,322.9h.01M74.0,313.8h.01M65.5,328.8h.01M71.9,313.6h.01M66.7,332.6h.01M74.9,333.9h.01M82.7,325.8h.01M67.4,318.9h.01M64.3,331.4h.01M69.8,327.6h.01M76.6,319.4h.01M77.7,319.6h.01M62.2,317.7h.01M62.2,330.6h.01M80.5,315.8h.01M80.2,325.0h.01M83.8,312.0h.01M74.3,311.4h.01M67.2,337.4h.01M78.9,330.8h.01M85.0,332.3h.01M66.7,337.2h.01M72.1,329.1h.01M70.8,324.4h.01M76.8,314.4h.01M71.7,323.2h.01M74.7,322.2h.01M64.0,330.2h.01M81.8,334.0h.01M72.7,333.0h.01M65.9,324.3h.01M81.0,336.7h.01M71.1,319.1h.01M78.7,321.4h.01M75.4,331.1h.01M66.4,331.9h.01M77.8,319.4h.01M61.5,315.4h.01M73.6,332.6h.01M82.5,326.6h.01M78.3,311.6h.01M63.0,332.2h.01M88.0,326.3h.01M72.1,317.4h.01M73.0,335.8h.01M66.8,333.8h.01M66.9,328.7h.01M87.7,314.6h.01M83.0,322.2h.01M64.7,324.5h.01M80.4,314.5h.01M71.3,316.1h.01M66.4,320.0h.01M82.2,316.9h.01M86.4,318.1h.01M67.1,334.0h.01M88.0,315.2h.01M70.0,318.2h.01M68.9,314.8h.01M86.4,313.1h.01M63.2,327.5h.01M84.0,323.8h.01M73.9,337.4h.01M65.7,334.2h.01M82.2,315.5h.01M75.2,323.5h.01M79.7,311.7h.01M71.7,323.3h.01M74.3,322.5h.01M76.5,320.2h.01M69.1,333.5h.01M67.6,318.8h.01M78.4,321.8h.01M72.7,327.2h.01M72.3,329.7h.01M91.8,326.1h.01M87.1,324.6h.01M65.6,315.3h.01M67.0,332.6h.01M67.7,323.6h.01M73.2,321.0h.01M59.9,332.8h.01M82.1,331.9h.01M73.1,324.1h.01M72.3,315.9h.01M64.2,314.3h.01M73.2,317.0h.01M90.4,319.3h.01M78.4,317.3h.01M72.2,311.8h.01M63.6,327.0h.01M72.8,316.1h.01M81.1,316.3h.01M78.3,318.3h.01M83.5,332.6h.01M74.6,334.1h.01M76.1,324.9h.01M70.4,320.0h.01M90.8,313.9h.01M65.7,321.9h.01M88.5,328.7h.01M63.0,321.4h.01M82.5,317.1h.01M84.7,321.2h.01M80.5,332.9h.01M64.1,323.0h.01M75.7,314.2h.01M80.8,320.9h.01M72.5,333.5h.01M66.6,323.9h.01M79.2,319.4h.01M84.6,324.2h.01M70.8,314.5h.01M71.0,324.6h.01M60.9,333.7h.01M71.4,328.7h.01M71.1,318.1h.01M67.4,325.6h.01M78.0,311.7h.01M70.8,333.8h.01M82.5,321.1h.01M60.0,318.4h.01M66.8,335.6h.01M60.1,314.8h.01M69.6,326.3h.01M68.2,329.7h.01M91.1,324.0h.01M62.7,320.4h.01M73.0,318.4h.01M85.2,334.7h.01M80.5,313.6h.01M68.1,332.1h.01M64.9,316.7h.01M62.4,316.5h.01M84.3,330.9h.01M80.7,318.8h.01M75.2,314.0h.01M72.2,313.6h.01M59.7,311.6h.01M66.6,321.1h.01M69.5,335.4h.01M73.7,315.4h.01M80.6,325.7h.01M67.3,313.9h.01M65.0,333.1h.01M82.3,334.3h.01M69.6,315.8h.01M71.3,317.1h.01M86.4,319.9h.01M87.1,314.6h.01M66.7,315.2h.01M71.0,315.3h.01M83.2,321.9h.01M76.7,330.0h.01M68.4,322.7h.01M87.7,324.1h.01M60.8,331.8h.01M73.4,334.8h.01M74.4,324.2h.01M80.3,314.4h.01M65.5,332.3h.01M80.5,331.1h.01M74.4,325.9h.01M83.9,333.9h.01M64.8,319.3h.01M72.3,314.8h.01M65.9,315.1h.01M85.1,336.9h.01M74.8,310.5h.01M67.5,324.4h.01M83.9,335.3h.01M65.1,332.6h.01M68.7,328.7h.01M82.8,338.2h.01M68.7,324.9h.01M78.0,317.8h.01M74.8,328.7h.01M64.5,327.9h.01M80.5,327.1h.01M79.6,315.8h.01M78.8,319.4h.01M71.2,329.9h.01M86.2,324.0h.01M67.4,320.0h.01M73.2,337.8h.01M81.3,314.0h.01M82.9,332.7h.01M72.7,327.3h.01M73.0,330.5h.01M66.1,334.0h.01M76.0,334.4h.01M66.5,317.8h.01M64.1,313.9h.01M78.8,323.8h.01M69.1,325.5h.01M61.2,318.1h.01M60.6,310.4h.01M89.2,337.1h.01M86.1,316.0h.01M68.6,324.9h.01M72.7,323.8h.01M62.8,328.4h.01M75.0,314.4h.01M89.8,325.1h.01M69.1,319.9h.01M79.3,324.5h.01M61.5,313.1h.01M74.9,325.5h.01M64.9,319.9h.01M66.0,329.0h.01M80.1,316.2h.01M73.7,331.6h.01M79.5,338.3h.01M70.7,312.5h.01M83.9,332.3h.01M67.4,334.2h.01M73.7,321.8h.01M91.7,328.1h.01M76.9,318.8h.01M75.8,333.7h.01M78.3,314.1h.01M78.2,321.0h.01M76.8,320.2h.01M80.6,317.3h.01M76.3,333.0h.01M83.3,316.5h.01M68.3,324.4h.01M73.8,322.9h.01M87.8,336.2h.01M65.1,326.2h.01M89.5,311.3h.01M70.4,314.2h.01M79.0,326.7h.01M73.5,329.5h.01M66.2,318.2h.01M73.5,322.9h.01M86.6,323.1h.01M86.5,324.9h.01M85.1,324.3h.01M64.9,313.0h.01M92.1,318.8h.01M65.6,332.5h.01M77.5,329.2h.01M62.0,326.5h.01M83.0,321.7h.01M83.9,322.6h.01M77.2,318.8h.01M60.6,320.6h.01M78.7,314.0h.01M86.7,319.8h.01M66.4,335.8h.01M69.5,312.6h.01M72.0,312.3h.01M74.5,327.3h.01M68.2,320.1h.01M72.3,331.4h.01M66.8,330.5h.01M86.1,320.2h.01M64.4,318.9h.01M62.1,320.4h.01M70.2,328.0h.01M75.0,326.9h.01M73.4,325.4h.01M62.7,329.6h.01M86.6,334.5h.01M60.7,326.9h.01M71.8,317.3h.01M66.5,319.7h.01M73.8,311.7h.01M74.4,325.1h.01M79.0,321.8h.01M83.8,325.9h.01M60.2,329.1h.01M72.2,326.5h.01M74.2,323.4h.01M72.3,337.5h.01M77.6,319.2h.01M65.4,316.5h.01M77.1,323.9h.01M76.8,337.2h.01M85.0,326.9h.01M74.3,321.6h.01M71.6,333.3h.01M61.4,310.9h.01M69.4,311.7h.01M66.6,335.4h.01M60.9,319.6h.01M68.2,311.4h.01M70.0,334.4h.01M92.1,319.1h.01M66.0,319.2h.01M78.5,332.6h.01M64.5,327.5h.01M73.6,334.9h.01M69.8,320.0h.01M76.5,330.1h.01M85.0,325.3h.01M69.3,312.2h.01M62.4,314.4h.01M77.2,323.3h.01M71.0,310.8h.01M73.7,328.1h.01M70.7,325.2h.01M75.3,311.3h.01M81.5,315.2h.01M80.7,323.4h.01M86.1,311.3h.01M81.0,327.0h.01M65.0,330.0h.01M66.3,320.6h.01M86.8,325.1h.01M88.5,315.1h.01M72.3,319.1h.01M69.1,335.8h.01M68.0,326.2h.01M92.3,331.4h.01M69.8,314.3h.01M82.7,334.5h.01M65.2,331.1h.01M70.0,331.5h.01M82.9,315.9h.01M89.6,312.7h.01M72.0,332.4h.01M71.8,316.2h.01M73.8,329.5h.01M91.1,337.2h.01M92.5,322.0h.01M69.8,311.3h.01M68.8,321.6h.01M74.5,332.4h.01M64.9,334.9h.01M74.4,330.4h.01M89.8,314.4h.01M77.9,334.3h.01M75.6,334.8h.01M72.7,321.4h.01M68.6,311.9h.01M63.0,316.5h.01M71.6,326.1h.01M73.6,317.3h.01M70.3,319.8h.01M73.0,312.4h.01M68.3,328.5h.01M60.5,310.9h.01M70.2,310.7h.01M63.1,314.6h.01M72.1,331.5h.01M88.9,318.7h.01M64.0,322.0h.01M89.6,315.9h.01M68.0,328.2h.01M90.7,327.6h.01M65.0,327.1h.01M85.1,326.5h.01M80.5,317.0h.01M64.7,321.3h.01M85.6,313.7h.01M66.1,335.7h.01M77.7,328.1h.01M82.3,314.1h.01M76.2,315.1h.01M66.8,323.8h.01M66.3,329.0h.01M75.7,329.6h.01M70.8,313.4h.01M81.8,328.9h.01M66.4,329.7h.01M89.7,319.2h.01M64.3,325.1h.01M74.9,328.6h.01M59.9,325.0h.01M83.0,330.0h.01M80.3,335.5h.01M65.7,335.8h.01M76.1,311.3h.01M71.0,325.3h.01M77.3,337.2h.01M75.9,316.7h.01M65.7,332.5h.01M69.8,313.6h.01M63.3,335.4h.01M63.3,323.4h.01M69.4,320.2h.01M65.8,324.0h.01M80.1,333.9h.01M74.3,323.7h.01M60.0,315.2h.01M66.5,329.8h.01M69.9,329.2h.01M71.7,336.2h.01M68.9,323.8h.01M80.4,317.4h.01M88.1,335.1h.01M85.9,332.9h.01M81.0,337.6h.01M78.0,323.9h.01M82.1,312.5h.01M75.5,314.6h.01M71.3,311.9h.01M65.6,324.4h.01M75.2,331.5h.01M73.1,329.3h.01M80.9,314.7h.01M71.5,316.5h.01M78.8,314.0h.01M83.5,324.4h.01M90.7,316.0h.01M91.9,322.6h.01M84.0,329.1h.01M70.4,323.8h.01M75.2,330.4h.01M82.5,323.4h.01M81.5,319.2h.01M71.3,334.0h.01M62.9,333.1h.01M77.6,323.0h.01M64.2,333.5h.01M75.9,324.8h.01M77.9,316.7h.01M78.0,323.9h.01M81.2,326.6h.01M61.1,314.7h.01M71.3,335.2h.01M67.5,334.9h.01M84.8,332.0h.01M77.2,335.8h.01M78.1,333.4h.01M72.7,338.0h.01M84.9,320.3h.01M65.1,319.2h.01M71.2,335.0h.01M77.3,321.7h.01M73.9,312.6h.01M67.6,317.3h.01M70.0,333.4h.01M78.5,322.4h.01M77.5,319.8h.01M62.1,332.1h.01M61.9,328.2h.01M70.6,319.4h.01M71.8,317.1h.01M64.0,329.4h.01M90.5,327.0h.01M84.3,330.8h.01M73.4,328.8h.01M87.3,317.8h.01M83.0,326.5h.01M76.6,336.8h.01M74.8,331.0h.01M87.9,313.6h.01M65.3,326.9h.01M73.4,316.1h.01M72.7,314.5h.01M75.4,318.3h.01M91.1,311.1h.01M79.8,323.3h.01M89.9,311.9h.01M67.4,318.3h.01M70.1,311.8h.01M72.5,314.2h.01M60.4,329.7h.01M68.7,328.4h.01M80.3,327.0h.01M75.3,322.2h.01M70.6,317.6h.01M75.4,328.0h.01M83.3,320.1h.01M86.3,312.3h.01M62.0,321.2h.01M78.7,333.9h.01M86.3,320.6h.01M78.4,319.0h.01M80.7,315.6h.01M73.7,332.9h.01M72.2,322.4h.01M74.9,311.0h.01M74.8,333.1h.01M86.5,338.3h.01M71.3,316.5h.01M83.2,322.4h.01M77.6,327.7h.01M71.8,337.4h.01M92.3,331.4h.01M68.4,325.2h.01M83.8,330.3h.01M67.1,332.8h.01M81.3,328.8h.01M69.8,322.1h.01M69.6,319.2h.01M71.2,318.9h.01M74.9,323.5h.01M67.9,321.0h.01M73.1,327.8h.01M78.4,318.5h.01M61.4,326.9h.01M72.4,318.2h.01M72.4,316.5h.01M67.7,323.1h.01M73.1,312.6h.01M84.3,326.4h.01M84.9,315.2h.01M89.7,317.2h.01M75.9,316.6h.01M75.4,312.5h.01M80.9,336.5h.01M83.0,330.6h.01M72.4,333.3h.01M71.4,319.7h.01M86.3,311.7h.01M85.5,313.9h.01M76.1,322.9h.01M68.8,327.2h.01M74.2,316.5h.01M76.0,329.5h.01M73.8,313.9h.01M81.9,315.0h.01M77.6,333.0h.01M84.3,324.0h.01M72.0,324.4h.01M80.6,313.4h.01M63.1,316.9h.01M80.2,321.1h.01M87.5,311.3h.01M71.7,333.0h.01M69.4,337.7h.01M65.6,311.9h.01M78.3,334.7h.01M82.2,324.7h.01M77.0,331.8h.01M79.1,321.3h.01M67.0,318.0h.01M74.1,318.2h.01M70.6,314.7h.01M82.6,319.7h.01M72.8,320.0h.01M87.2,316.5h.01M88.2,313.0h.01M89.3,329.0h.01M69.1,327.3h.01M85.4,312.0h.01M71.7,325.8h.01M71.9,319.2h.01M74.2,325.8h.01M81.8,338.4h.01M69.7,318.6h.01M67.7,320.9h.01M80.6,326.7h.01M82.6,320.6h.01M71.7,335.5h.01M91.2,326.5h.01M75.6,313.0h.01M72.4,320.1h.01M89.4,320.3h.01M62.3,313.3h.01M80.8,323.6h.01M74.4,320.5h.01M75.3,326.2h.01M69.3,319.3h.01M76.4,310.5h.01M80.4,321.0h.01M62.3,337.0h.01M66.8,335.5h.01M71.8,333.6h.01M77.9,327.5h.01M76.6,314.8h.01M73.0,322.3h.01M65.9,334.2h.01" stroke="#333" stroke-width="0.6" stroke-linecap="round" fill="none" opacity="0.55"/>
</g></g>
<clipPath id="cp5"><rect x="94.3" y="291.3" width="26.700000000000003" height="47.200000000000045"/></clipPath>
<g clip-path="url(#cp5)">
<ellipse cx="101" cy="301.3" rx="9" ry="6" fill="url(#gl)"/>
<ellipse cx="108" cy="323.3" rx="15" ry="14" fill="url(#gl)"/>
<g filter="url(#bl)">
<path d="M101.3,307.4h.01M103.5,304.5h.01M100.3,297.7h.01M98.9,296.8h.01M104.7,300.9h.01M95.6,294.2h.01M96.9,293.1h.01M96.7,294.3h.01M106.2,295.7h.01M98.5,299.8h.01M102.2,302.0h.01M106.6,302.9h.01M100.0,305.3h.01M104.2,297.5h.01M111.0,295.6h.01M104.9,305.3h.01M102.7,301.7h.01M102.8,303.0h.01M103.4,300.3h.01M106.2,292.8h.01M103.5,299.1h.01M113.7,301.5h.01M98.1,302.9h.01M99.7,295.6h.01M100.4,302.3h.01M109.1,304.5h.01M103.4,299.7h.01M103.2,305.1h.01M101.3,304.9h.01M97.3,300.3h.01M106.6,303.1h.01M103.2,298.3h.01M97.0,298.7h.01M111.4,297.3h.01M107.1,300.2h.01M95.5,300.7h.01M106.5,295.6h.01M95.1,298.8h.01M106.3,297.9h.01M104.5,302.1h.01M102.1,302.1h.01M109.6,299.6h.01M104.0,296.1h.01M97.8,299.9h.01M106.8,297.7h.01M95.7,300.8h.01M104.9,296.6h.01M104.0,304.7h.01M100.4,303.2h.01M102.8,296.6h.01" stroke="#777" stroke-width="0.6" stroke-linecap="round" fill="none" opacity="0.5"/>
<path d="M103.2,318.5h.01M118.5,332.5h.01M104.2,320.1h.01M110.3,312.9h.01M104.7,319.7h.01M114.1,324.0h.01M98.0,330.6h.01M113.8,320.6h.01M108.0,327.4h.01M106.2,326.6h.01M118.2,320.8h.01M105.3,323.5h.01M113.1,320.2h.01M108.7,317.9h.01M107.4,327.6h.01M101.6,321.9h.01M96.6,317.8h.01M108.6,327.5h.01M100.0,322.5h.01M100.8,325.8h.01M110.1,326.8h.01M106.4,312.1h.01M103.6,312.7h.01M102.7,322.9h.01M116.5,318.2h.01M102.0,324.9h.01M96.0,331.3h.01M115.7,330.9h.01M107.2,329.1h.01M105.3,330.9h.01M102.9,316.9h.01M111.0,319.7h.01M113.3,316.5h.01M110.1,315.6h.01M99.6,313.6h.01M95.5,321.5h.01M120.7,319.8h.01M115.3,321.9h.01M100.4,326.6h.01M113.1,321.6h.01M110.5,327.6h.01M105.3,331.2h.01M101.4,329.3h.01M115.1,324.9h.01M105.3,323.2h.01M114.0,316.1h.01M110.8,323.7h.01M105.9,327.0h.01M108.6,313.4h.01M103.9,324.1h.01M98.1,319.8h.01M104.4,330.8h.01M99.9,335.4h.01M105.1,324.4h.01M103.5,324.0h.01M110.6,323.6h.01M101.6,329.3h.01M112.3,323.3h.01M116.2,317.5h.01M117.9,322.1h.01M119.8,319.8h.01M106.1,325.0h.01M116.5,334.7h.01M104.5,317.6h.01M113.9,333.1h.01M113.5,320.7h.01M117.9,323.1h.01M109.3,328.2h.01M109.7,328.9h.01M111.4,327.6h.01M109.3,331.5h.01M108.9,335.1h.01M108.4,329.6h.01M103.7,325.7h.01M111.3,324.4h.01M120.0,323.7h.01M116.7,326.1h.01M116.5,316.2h.01M105.2,330.9h.01M101.7,326.4h.01M112.4,324.8h.01M111.4,327.6h.01M106.2,326.6h.01M104.0,319.8h.01M95.7,322.5h.01M94.9,323.5h.01M109.6,314.7h.01M108.6,325.6h.01M105.3,316.1h.01M107.2,326.5h.01M111.4,318.3h.01M108.9,334.1h.01M116.3,319.8h.01M106.5,317.8h.01M109.6,323.8h.01M116.9,318.7h.01M107.3,328.3h.01M114.9,320.5h.01M104.2,327.7h.01M95.7,312.7h.01M111.2,332.3h.01M117.0,318.1h.01M96.6,327.6h.01M104.9,315.3h.01M99.9,332.2h.01M108.5,332.3h.01M107.4,337.7h.01M107.8,322.4h.01M111.4,326.1h.01M96.4,315.8h.01M106.2,326.0h.01M98.5,317.6h.01M102.2,326.0h.01M104.7,328.1h.01M111.0,316.1h.01M105.7,313.5h.01M108.8,329.7h.01M112.0,321.0h.01M107.8,326.9h.01M110.9,330.6h.01M104.2,320.9h.01M104.8,326.4h.01M106.1,333.6h.01M103.1,323.2h.01M100.6,315.4h.01M105.0,329.4h.01M108.1,321.9h.01M106.3,321.4h.01M111.3,331.0h.01M101.0,313.5h.01M105.1,335.1h.01M115.7,318.7h.01M98.3,330.7h.01M116.5,314.6h.01M120.5,317.1h.01M113.8,321.7h.01M105.4,318.4h.01M113.4,328.2h.01M114.3,321.1h.01M99.1,335.2h.01M109.0,323.8h.01M114.7,326.1h.01M100.3,323.9h.01M106.7,325.4h.01M115.1,328.3h.01M110.3,319.3h.01M113.0,325.5h.01M119.3,329.9h.01M119.8,327.2h.01M109.4,318.5h.01M108.8,320.4h.01M112.5,334.1h.01M112.1,330.8h.01M110.1,326.1h.01M98.0,324.3h.01M108.4,322.7h.01M106.1,325.7h.01M103.5,321.7h.01M101.0,313.7h.01M103.8,320.0h.01" stroke="#777" stroke-width="0.6" stroke-linecap="round" fill="none" opacity="0.5"/>
</g></g>
<line x1="57.2" y1="278.3" x2="123.3" y2="278.3" stroke="#333" stroke-width="1.0" />
<line x1="123.3" y1="278.3" x2="123.3" y2="342.70000000000005" stroke="#444" stroke-width="1.0" />
<line x1="57.2" y1="277.8" x2="57.2" y2="343.20000000000005" stroke="#111" stroke-width="1.8" />
<line x1="57.2" y1="342.70000000000005" x2="123.3" y2="342.70000000000005" stroke="#222" stroke-width="1.3" />
<rect x="59.3" y="291.3" width="33.6" height="17.2" fill="none" stroke="#666" stroke-width="0.9"/>
<rect x="94.3" y="291.3" width="26.8" height="17.2" fill="none" stroke="#888" stroke-width="0.9"/>
<rect x="59.3" y="310.3" width="33.6" height="28.200000000000045" fill="none" stroke="#666" stroke-width="0.9"/>
<rect x="94.3" y="310.3" width="26.8" height="28.200000000000045" fill="none" stroke="#888" stroke-width="0.9"/>
<line x1="93.5" y1="291.3" x2="93.5" y2="338.50000000000006" stroke="#222" stroke-width="1.4" />
<line x1="57.2" y1="309.5" x2="122.3" y2="309.5" stroke="#999" stroke-width="0.8" />
<text x="108.30" y="297.50" font-size="6" text-anchor="start" font-weight="bold" fill="#111" textLength="10" lengthAdjust="spacingAndGlyphs" >LSK</text>
<text x="60.00" y="335.90" font-size="4.5" text-anchor="start" font-weight="normal" fill="#555" textLength="26" lengthAdjust="spacingAndGlyphs" >c-kit-, Sca-1-</text>
<text x="94.60" y="335.90" font-size="4.5" text-anchor="start" font-weight="normal" fill="#666" textLength="25.5" lengthAdjust="spacingAndGlyphs" >c-kit-, Sca-1+</text>
<text x="44.81" y="281.80" font-size="6.7" font-weight="bold" fill="#000" stroke="#000" stroke-width="0.25">10<tspan font-size="4.22" dy="-2.4">4</tspan></text>
<text x="44.81" y="296.90" font-size="6.7" font-weight="bold" fill="#000" stroke="#000" stroke-width="0.25">10<tspan font-size="4.22" dy="-2.4">3</tspan></text>
<text x="44.81" y="312.70" font-size="6.7" font-weight="bold" fill="#000" stroke="#000" stroke-width="0.25">10<tspan font-size="4.22" dy="-2.4">2</tspan></text>
<text x="44.81" y="328.20" font-size="6.7" font-weight="bold" fill="#000" stroke="#000" stroke-width="0.25">10<tspan font-size="4.22" dy="-2.4">1</tspan></text>
<text x="73.45" y="354.20" font-size="6.5" font-weight="bold" fill="#000" stroke="#000" stroke-width="0.25">10<tspan font-size="4.09" dy="-2.4">1</tspan></text>
<text x="90.45" y="354.20" font-size="6.5" font-weight="bold" fill="#000" stroke="#000" stroke-width="0.25">10<tspan font-size="4.09" dy="-2.4">2</tspan></text>
<text x="106.75" y="354.20" font-size="6.5" font-weight="bold" fill="#000" stroke="#000" stroke-width="0.25">10<tspan font-size="4.09" dy="-2.4">3</tspan></text>
<text x="122.65" y="354.20" font-size="6.5" font-weight="bold" fill="#000" stroke="#000" stroke-width="0.25">10<tspan font-size="4.09" dy="-2.4">4</tspan></text>
<line x1="74" y1="342.70000000000005" x2="74" y2="344.30000000000007" stroke="#222" stroke-width="0.7" />
<line x1="92.8" y1="342.70000000000005" x2="92.8" y2="344.30000000000007" stroke="#222" stroke-width="0.7" />
<line x1="109" y1="342.70000000000005" x2="109" y2="344.30000000000007" stroke="#222" stroke-width="0.7" />
<line x1="144.2" y1="343.5" x2="144.2" y2="206" stroke="#111" stroke-width="1.25" />
<path d="M144.2,201.8 L141.2,207.2 L147.2,207.2 z" fill="#111"/>
<text x="141.50" y="298.90" font-size="9" text-anchor="start" font-weight="bold" fill="#111" textLength="47" lengthAdjust="spacingAndGlyphs" transform="rotate(-90 141.50 298.90)" stroke="#000" stroke-width="0.25">CD45.2-FITC</text>
<line x1="160" y1="357" x2="224" y2="357" stroke="#111" stroke-width="1.4" />
<path d="M228.5,357 L222,354.2 L222,359.8 z" fill="#111"/>
<text x="168.50" y="367.00" font-size="9" text-anchor="start" font-weight="bold" fill="#111" textLength="39" lengthAdjust="spacingAndGlyphs" stroke="#000" stroke-width="0.25">CD45.1-PE</text>
<path d="M165.1,227.5h.01M182.5,236.4h.01M169.6,235.2h.01M164.9,229.6h.01M174.1,235.3h.01M167.6,233.8h.01M178.8,234.2h.01M173.2,235.3h.01M163.8,234.4h.01M168.0,228.9h.01M177.7,233.3h.01M178.4,239.0h.01M161.4,230.5h.01M178.9,237.5h.01M174.5,234.7h.01M176.5,235.5h.01M163.8,235.7h.01M178.4,232.7h.01M166.1,232.5h.01M168.2,235.2h.01M177.0,233.9h.01M170.0,229.2h.01M169.3,231.2h.01M168.4,234.7h.01M166.4,232.4h.01M164.6,233.1h.01M170.2,236.4h.01M176.2,232.4h.01M167.6,234.3h.01M175.4,233.4h.01M171.0,233.8h.01M165.0,234.5h.01M175.7,233.9h.01M164.6,233.8h.01M171.3,234.6h.01M169.3,235.9h.01M179.0,235.9h.01M173.5,236.9h.01M171.7,233.4h.01M162.7,233.9h.01M179.8,231.3h.01M177.0,230.5h.01M173.9,238.5h.01M172.3,230.8h.01M173.8,233.4h.01M177.1,232.5h.01M160.8,232.6h.01M175.8,236.4h.01M173.8,233.9h.01M176.4,233.3h.01M169.0,234.4h.01M179.0,232.5h.01M175.2,232.2h.01M167.2,234.2h.01M163.4,231.6h.01M164.3,232.3h.01M166.1,239.8h.01M175.9,234.0h.01M163.3,227.7h.01M174.8,232.2h.01M178.7,232.8h.01M163.5,232.2h.01M162.1,230.2h.01M176.6,232.5h.01M176.4,232.4h.01M170.5,232.4h.01M168.4,232.1h.01M181.6,233.7h.01M180.1,236.7h.01M171.3,233.4h.01M168.9,234.1h.01M175.0,233.8h.01M166.6,231.4h.01M182.7,238.1h.01M163.9,232.2h.01M171.7,235.3h.01M171.2,234.4h.01M174.3,236.7h.01M163.5,236.6h.01M174.8,235.2h.01M162.2,233.2h.01M170.3,235.4h.01M176.4,235.5h.01M163.6,237.0h.01M172.4,236.2h.01M171.9,232.0h.01M176.9,232.6h.01M170.5,236.6h.01M174.8,238.2h.01M179.7,231.1h.01M162.0,236.7h.01M175.8,233.2h.01M170.0,232.4h.01M183.5,233.4h.01M163.0,236.1h.01M171.4,234.7h.01M169.4,233.7h.01M167.5,232.8h.01M174.0,237.0h.01M175.4,236.4h.01M166.0,234.6h.01M174.5,236.2h.01M167.9,233.3h.01M168.6,236.7h.01M178.9,232.7h.01M171.0,234.4h.01M166.1,233.5h.01M177.5,235.8h.01M167.5,232.2h.01M171.1,230.1h.01M173.9,234.1h.01M163.3,233.2h.01M167.6,233.1h.01M166.2,237.2h.01M165.6,235.7h.01M173.2,237.4h.01M171.5,233.8h.01M172.3,229.1h.01M187.5,233.3h.01M169.8,231.0h.01M171.0,237.8h.01M167.0,234.9h.01M178.6,236.2h.01M169.3,229.5h.01M174.5,235.2h.01M169.8,232.8h.01M183.3,229.9h.01M168.6,232.3h.01M161.8,232.1h.01M166.7,236.9h.01M160.6,230.4h.01M173.6,230.0h.01M164.1,231.4h.01M170.8,235.0h.01M167.7,233.1h.01M176.5,233.5h.01M176.6,232.4h.01M175.1,237.0h.01M162.9,241.2h.01M169.8,233.0h.01M170.8,235.0h.01M164.0,233.9h.01M168.1,237.4h.01M160.7,235.4h.01M169.8,232.0h.01M172.8,233.2h.01M172.1,234.4h.01M179.7,232.8h.01M183.7,236.8h.01M182.0,234.3h.01M173.7,231.3h.01M180.5,231.0h.01M166.7,233.8h.01M173.4,234.7h.01M164.3,233.0h.01M175.1,236.8h.01M176.8,234.9h.01M170.2,232.5h.01M168.6,233.6h.01M175.3,232.6h.01M185.2,231.4h.01M177.2,233.3h.01M171.0,232.9h.01M181.8,233.1h.01M175.5,234.1h.01M176.7,235.3h.01M182.6,232.0h.01M166.6,238.0h.01M180.1,234.0h.01M170.0,234.5h.01M180.3,232.0h.01M181.3,233.7h.01M169.5,232.9h.01M163.4,232.5h.01M166.1,234.4h.01M176.6,233.9h.01M173.1,234.8h.01M182.3,235.3h.01M182.1,233.7h.01M174.2,232.2h.01M175.7,231.7h.01M174.9,232.3h.01M169.6,236.8h.01M172.8,235.8h.01M170.3,229.3h.01M181.4,233.4h.01M167.7,236.2h.01M164.5,232.0h.01M179.3,232.1h.01M179.2,233.1h.01M170.5,234.0h.01M168.6,236.5h.01M179.0,234.0h.01M175.8,235.2h.01M182.8,230.0h.01M178.5,236.1h.01M169.8,233.9h.01M169.6,236.9h.01M164.5,235.3h.01M180.2,235.2h.01M168.8,232.7h.01M179.0,231.5h.01M161.3,233.2h.01M162.2,235.0h.01M166.2,236.2h.01M171.1,230.4h.01M166.9,232.3h.01M166.4,236.9h.01M165.4,234.7h.01M168.1,235.3h.01M162.6,230.0h.01M175.2,237.3h.01M162.9,233.1h.01M168.6,231.6h.01M178.2,234.0h.01M162.9,233.3h.01M180.5,232.1h.01M168.5,231.8h.01M172.9,232.5h.01M177.7,231.8h.01M162.4,234.9h.01M173.7,234.4h.01M168.1,232.8h.01M166.7,233.4h.01M168.9,235.2h.01M172.0,235.2h.01M182.5,233.2h.01M170.0,234.8h.01M185.5,233.0h.01M182.8,236.7h.01M165.5,234.8h.01M180.5,234.0h.01M173.0,239.2h.01M174.2,239.1h.01M166.1,237.9h.01M168.6,227.9h.01M166.5,232.7h.01M171.6,235.7h.01M176.4,235.1h.01M167.1,238.2h.01M179.7,233.9h.01M168.2,233.7h.01M170.5,232.1h.01M171.8,232.2h.01M176.1,232.2h.01M175.1,234.6h.01M173.0,235.1h.01M165.2,240.2h.01M167.4,235.6h.01M172.0,232.8h.01M183.2,236.5h.01M170.1,235.2h.01M176.3,237.7h.01M178.5,233.4h.01M170.3,231.0h.01M173.6,236.0h.01M169.4,235.5h.01M172.8,232.7h.01M164.0,236.6h.01M164.9,231.3h.01" stroke="#555" stroke-width="0.6" stroke-linecap="round" fill="none" opacity="0.7"/>
<path d="M179.9,242.2h.01M179.0,241.4h.01M175.1,239.5h.01M177.0,241.9h.01M164.7,239.9h.01M183.6,242.3h.01M179.7,241.4h.01M171.4,239.8h.01M176.6,236.7h.01M173.6,238.2h.01M168.1,241.0h.01M170.4,241.8h.01M176.9,241.4h.01M179.6,243.8h.01M190.0,237.6h.01M177.2,241.3h.01M170.9,240.6h.01M164.6,239.1h.01M176.6,236.7h.01M181.1,236.6h.01M182.5,240.2h.01M179.2,236.5h.01M176.2,241.7h.01M163.9,237.3h.01M185.7,246.0h.01" stroke="#888" stroke-width="0.6" stroke-linecap="round" fill="none" opacity="0.5"/>
<rect x="159.5" y="200.3" width="66.0" height="65.0" fill="none" stroke="#444" stroke-width="0.9"/>
<line x1="206.4" y1="200.3" x2="206.4" y2="240.3" stroke="#555" stroke-width="1.0" />
<path d="M159.5,247.3 L174,248.3 L184,240.3 L224.2,240.3 L224.2,265.3 M174.5,248.3 L174.5,265.3" fill="none" stroke="#555" stroke-width="1.2"/>
<text x="147.45" y="204.50" font-size="6.5" font-weight="bold" fill="#000" stroke="#000" stroke-width="0.25">10<tspan font-size="4.09" dy="-2.4">4</tspan></text>
<text x="147.45" y="219.50" font-size="6.5" font-weight="bold" fill="#000" stroke="#000" stroke-width="0.25">10<tspan font-size="4.09" dy="-2.4">3</tspan></text>
<text x="147.45" y="234.80" font-size="6.5" font-weight="bold" fill="#000" stroke="#000" stroke-width="0.25">10<tspan font-size="4.09" dy="-2.4">2</tspan></text>
<text x="147.45" y="251.00" font-size="6.5" font-weight="bold" fill="#000" stroke="#000" stroke-width="0.25">10<tspan font-size="4.09" dy="-2.4">1</tspan></text>
<text x="174.92" y="274.80" font-size="6.4" font-weight="bold" fill="#000" stroke="#000" stroke-width="0.25">10<tspan font-size="4.03" dy="-2.4">1</tspan></text>
<text x="191.32" y="274.80" font-size="6.4" font-weight="bold" fill="#000" stroke="#000" stroke-width="0.25">10<tspan font-size="4.03" dy="-2.4">2</tspan></text>
<text x="207.92" y="274.80" font-size="6.4" font-weight="bold" fill="#000" stroke="#000" stroke-width="0.25">10<tspan font-size="4.03" dy="-2.4">3</tspan></text>
<text x="224.92" y="274.80" font-size="6.4" font-weight="bold" fill="#000" stroke="#000" stroke-width="0.25">10<tspan font-size="4.03" dy="-2.4">4</tspan></text>
<ellipse cx="187.5" cy="331.2" rx="5" ry="10" fill="url(#gl2)"/>
<ellipse cx="178" cy="310.2" rx="9" ry="2.5" fill="url(#gl2)"/>
<path d="M181.3,310.1h.01M172.5,309.6h.01M176.7,310.9h.01M176.7,314.0h.01M184.6,306.9h.01M172.1,310.2h.01M182.9,310.8h.01M184.7,311.1h.01M190.8,311.4h.01M180.3,312.6h.01M175.7,309.4h.01M172.9,310.6h.01M180.2,311.6h.01M185.2,311.2h.01M184.1,309.8h.01M173.2,311.3h.01M183.1,312.3h.01M177.2,309.5h.01M176.2,310.8h.01M177.7,309.9h.01M179.3,309.8h.01M179.7,309.3h.01M170.2,309.7h.01M187.5,309.0h.01M182.6,312.3h.01M175.3,310.6h.01M166.5,311.1h.01M185.7,310.5h.01M168.0,309.3h.01M174.3,310.4h.01M179.4,309.6h.01M176.4,309.0h.01M180.9,310.5h.01M179.7,309.4h.01M180.5,309.8h.01M179.5,310.0h.01M174.7,308.5h.01M168.6,308.1h.01M169.8,309.0h.01M177.0,308.4h.01" stroke="#999" stroke-width="0.6" stroke-linecap="round" fill="none" opacity="0.5"/>
<path d="M181.1,324.0h.01M190.3,324.1h.01M187.3,327.1h.01M189.3,322.4h.01M188.2,332.0h.01M188.8,333.2h.01M187.9,320.5h.01M186.8,325.3h.01M188.7,329.4h.01M187.8,337.1h.01M187.2,340.5h.01M189.4,322.2h.01M186.2,337.8h.01M186.3,337.6h.01M186.2,330.0h.01M189.9,321.6h.01M187.7,328.1h.01M187.9,340.6h.01M188.6,322.9h.01M189.7,328.1h.01M187.9,337.4h.01M186.8,336.3h.01M187.9,325.5h.01M186.8,322.9h.01M190.2,331.7h.01M189.7,324.3h.01M189.5,323.8h.01M188.1,330.6h.01M186.1,332.5h.01M187.6,325.7h.01M185.8,323.2h.01M190.7,331.6h.01M186.7,334.7h.01M185.5,324.0h.01M188.3,339.9h.01M188.2,331.6h.01M191.5,321.8h.01M194.5,324.3h.01M187.3,322.9h.01M184.7,329.3h.01M193.1,325.3h.01M186.1,332.3h.01M185.2,329.2h.01M186.8,329.0h.01M186.3,330.0h.01M183.4,328.2h.01M186.3,324.7h.01M189.3,325.7h.01M190.8,333.6h.01M185.6,334.2h.01M186.2,334.0h.01M189.6,337.4h.01M185.1,330.0h.01M187.5,323.6h.01M188.5,334.7h.01M184.3,327.5h.01M185.0,323.3h.01M185.0,338.7h.01M186.0,328.4h.01M189.8,336.7h.01M189.2,320.5h.01M186.0,328.3h.01M187.1,337.5h.01M187.1,330.4h.01M188.7,333.3h.01M188.7,320.6h.01M188.7,332.6h.01M188.9,330.4h.01M188.4,323.1h.01M190.1,323.6h.01" stroke="#aaa" stroke-width="0.6" stroke-linecap="round" fill="none" opacity="0.5"/>
<rect x="159.5" y="277.7" width="66.0" height="65.90000000000003" fill="none" stroke="#444" stroke-width="0.9"/>
<line x1="206.4" y1="277.7" x2="206.4" y2="317.7" stroke="#555" stroke-width="1.0" />
<path d="M159.5,324.7 L174,325.7 L184,317.7 L224.2,317.7 L224.2,343.6 M174.5,325.7 L174.5,343.6" fill="none" stroke="#555" stroke-width="1.2"/>
<text x="147.45" y="281.90" font-size="6.5" font-weight="bold" fill="#000" stroke="#000" stroke-width="0.25">10<tspan font-size="4.09" dy="-2.4">4</tspan></text>
<text x="147.45" y="296.90" font-size="6.5" font-weight="bold" fill="#000" stroke="#000" stroke-width="0.25">10<tspan font-size="4.09" dy="-2.4">3</tspan></text>
<text x="147.45" y="312.20" font-size="6.5" font-weight="bold" fill="#000" stroke="#000" stroke-width="0.25">10<tspan font-size="4.09" dy="-2.4">2</tspan></text>
<text x="147.45" y="328.40" font-size="6.5" font-weight="bold" fill="#000" stroke="#000" stroke-width="0.25">10<tspan font-size="4.09" dy="-2.4">1</tspan></text>
<text x="174.92" y="353.10" font-size="6.4" font-weight="bold" fill="#000" stroke="#000" stroke-width="0.25">10<tspan font-size="4.03" dy="-2.4">1</tspan></text>
<text x="191.32" y="353.10" font-size="6.4" font-weight="bold" fill="#000" stroke="#000" stroke-width="0.25">10<tspan font-size="4.03" dy="-2.4">2</tspan></text>
<text x="207.92" y="353.10" font-size="6.4" font-weight="bold" fill="#000" stroke="#000" stroke-width="0.25">10<tspan font-size="4.03" dy="-2.4">3</tspan></text>
<text x="224.92" y="353.10" font-size="6.4" font-weight="bold" fill="#000" stroke="#000" stroke-width="0.25">10<tspan font-size="4.03" dy="-2.4">4</tspan></text>
<text x="244.50" y="212.80" font-size="17.5" text-anchor="start" font-weight="bold" fill="#000" textLength="13" lengthAdjust="spacingAndGlyphs" >C</text>
<line x1="268.7" y1="226.5" x2="268.7" y2="339.5" stroke="#999" stroke-width="1.0" />
<line x1="268.7" y1="339" x2="375" y2="339" stroke="#999" stroke-width="1.0" />
<line x1="267.2" y1="339.0" x2="268.7" y2="339.0" stroke="#999" stroke-width="0.7" />
<text x="263.60" y="342.00" font-size="8" text-anchor="start" font-weight="normal" fill="#222" textLength="3.5" lengthAdjust="spacingAndGlyphs" >0</text>
<line x1="267.2" y1="316.64" x2="268.7" y2="316.64" stroke="#999" stroke-width="0.7" />
<text x="260.40" y="319.64" font-size="8" text-anchor="start" font-weight="normal" fill="#222" textLength="6.7" lengthAdjust="spacingAndGlyphs" >20</text>
<line x1="267.2" y1="294.28" x2="268.7" y2="294.28" stroke="#999" stroke-width="0.7" />
<text x="260.40" y="297.28" font-size="8" text-anchor="start" font-weight="normal" fill="#222" textLength="6.7" lengthAdjust="spacingAndGlyphs" >40</text>
<line x1="267.2" y1="271.91999999999996" x2="268.7" y2="271.91999999999996" stroke="#999" stroke-width="0.7" />
<text x="260.40" y="274.92" font-size="8" text-anchor="start" font-weight="normal" fill="#222" textLength="6.7" lengthAdjust="spacingAndGlyphs" >60</text>
<line x1="267.2" y1="249.56" x2="268.7" y2="249.56" stroke="#999" stroke-width="0.7" />
<text x="260.40" y="252.56" font-size="8" text-anchor="start" font-weight="normal" fill="#222" textLength="6.7" lengthAdjust="spacingAndGlyphs" >80</text>
<line x1="267.2" y1="227.2" x2="268.7" y2="227.2" stroke="#999" stroke-width="0.7" />
<text x="257.60" y="230.20" font-size="8" text-anchor="start" font-weight="normal" fill="#222" textLength="9.5" lengthAdjust="spacingAndGlyphs" >100</text>
<text x="252.60" y="337.00" font-size="8.8" text-anchor="start" font-weight="normal" fill="#222" textLength="93" lengthAdjust="spacingAndGlyphs" transform="rotate(-90 252.60 337.00)" >Positive cells in BM (%)</text>
<line x1="278.8" y1="259.5" x2="278.8" y2="290" stroke="#222" stroke-width="0.8" />
<line x1="277.6" y1="259.5" x2="280.0" y2="259.5" stroke="#222" stroke-width="0.8" />
<line x1="277.6" y1="290" x2="280.0" y2="290" stroke="#222" stroke-width="0.8" />
<rect x="275.00" y="288.00" width="7.50" height="51.00" fill="#111"/>
<rect x="282.50" y="245.00" width="9.30" height="94.00" fill="#b8b8b8" stroke="#000" stroke-width="0.95"/>
<line x1="287" y1="238" x2="287" y2="252.5" stroke="#222" stroke-width="0.8" />
<line x1="285" y1="238" x2="289" y2="238" stroke="#222" stroke-width="0.8" />
<line x1="285" y1="252.5" x2="289" y2="252.5" stroke="#222" stroke-width="0.8" />
<line x1="278" y1="233.7" x2="291" y2="233.7" stroke="#111" stroke-width="1.1" />
<text x="284.50" y="233.30" font-size="6.5" text-anchor="middle" font-weight="bold" fill="#000" >*</text>
<line x1="306.8" y1="252" x2="306.8" y2="285" stroke="#000" stroke-width="1.05" />
<line x1="305.6" y1="252" x2="308.0" y2="252" stroke="#000" stroke-width="1.05" />
<line x1="305.6" y1="285" x2="308.0" y2="285" stroke="#000" stroke-width="1.05" />
<rect x="303.00" y="283.00" width="7.50" height="56.00" fill="#111"/>
<rect x="310.50" y="330.00" width="8.80" height="9.00" fill="#b8b8b8" stroke="#000" stroke-width="0.95"/>
<line x1="315" y1="324.5" x2="315" y2="336" stroke="#000" stroke-width="1.05" />
<line x1="313.2" y1="324.5" x2="316.8" y2="324.5" stroke="#000" stroke-width="1.05" />
<line x1="313.2" y1="336" x2="316.8" y2="336" stroke="#000" stroke-width="1.05" />
<line x1="303.7" y1="247.5" x2="316.3" y2="247.5" stroke="#111" stroke-width="1.1" />
<text x="310.00" y="247.10" font-size="6.5" text-anchor="middle" font-weight="bold" fill="#000" >*</text>
<line x1="333.7" y1="240" x2="333.7" y2="275" stroke="#000" stroke-width="1.05" />
<line x1="332.5" y1="240" x2="334.9" y2="240" stroke="#000" stroke-width="1.05" />
<line x1="332.5" y1="275" x2="334.9" y2="275" stroke="#000" stroke-width="1.05" />
<rect x="329.50" y="273.00" width="8.00" height="66.00" fill="#111"/>
<rect x="337.50" y="233.00" width="8.80" height="106.00" fill="#b8b8b8" stroke="#000" stroke-width="0.95"/>
<line x1="342" y1="230.5" x2="342" y2="236" stroke="#000" stroke-width="1.05" />
<line x1="340.2" y1="230.5" x2="343.8" y2="230.5" stroke="#000" stroke-width="1.05" />
<line x1="340.2" y1="236" x2="343.8" y2="236" stroke="#000" stroke-width="1.05" />
<line x1="332.5" y1="226.7" x2="345.5" y2="226.7" stroke="#111" stroke-width="1.1" />
<text x="339.50" y="226.30" font-size="6.5" text-anchor="middle" font-weight="bold" fill="#000" >*</text>
<line x1="361.3" y1="261" x2="361.3" y2="296" stroke="#000" stroke-width="1.05" />
<line x1="360.1" y1="261" x2="362.5" y2="261" stroke="#000" stroke-width="1.05" />
<line x1="360.1" y1="296" x2="362.5" y2="296" stroke="#000" stroke-width="1.05" />
<rect x="357.50" y="294.50" width="7.50" height="44.50" fill="#111"/>
<rect x="365.00" y="333.70" width="8.00" height="5.30" fill="#b8b8b8" stroke="#000" stroke-width="0.95"/>
<line x1="369" y1="330.7" x2="369" y2="337" stroke="#000" stroke-width="1.05" />
<line x1="367.4" y1="330.7" x2="370.6" y2="330.7" stroke="#000" stroke-width="1.05" />
<line x1="367.4" y1="337" x2="370.6" y2="337" stroke="#000" stroke-width="1.05" />
<line x1="357" y1="258" x2="368.7" y2="258" stroke="#111" stroke-width="1.1" />
<text x="362.50" y="257.60" font-size="6.5" text-anchor="middle" font-weight="bold" fill="#000" >*</text>
<rect x="353.70" y="230.50" width="3.80" height="3.60" fill="#000"/>
<text x="360.00" y="234.50" font-size="7" text-anchor="start" font-weight="normal" fill="#222" textLength="7.8" lengthAdjust="spacingAndGlyphs" >stg</text>
<rect x="354.00" y="237.20" width="3.40" height="3.30" fill="#ccc" stroke="#333" stroke-width="0.6"/>
<text x="360.00" y="241.00" font-size="7" text-anchor="start" font-weight="normal" fill="#222" textLength="8" lengthAdjust="spacingAndGlyphs" >dtg</text>
<line x1="275" y1="342.4" x2="319.5" y2="342.4" stroke="#000" stroke-width="1.3" />
<line x1="330" y1="342.2" x2="373" y2="342.2" stroke="#000" stroke-width="1.3" />
<text x="291.00" y="348.70" font-size="8" text-anchor="start" font-weight="normal" fill="#222" textLength="10" lengthAdjust="spacingAndGlyphs" >LSK</text>
<text x="339.25" y="348.40" font-size="8" text-anchor="start" font-weight="normal" fill="#222" textLength="29.5" lengthAdjust="spacingAndGlyphs" >Progenitor</text>
<line x1="274.5" y1="350.7" x2="290" y2="350.7" stroke="#000" stroke-width="1.3" />
<line x1="300.5" y1="350.7" x2="318.8" y2="350.7" stroke="#000" stroke-width="1.3" />
<line x1="329.5" y1="350.7" x2="344.5" y2="350.7" stroke="#000" stroke-width="1.3" />
<line x1="356" y1="350.7" x2="372.5" y2="350.7" stroke="#000" stroke-width="1.3" />
<text x="272.00" y="359.30" font-size="8.5" text-anchor="start" font-weight="normal" fill="#222" textLength="19" lengthAdjust="spacingAndGlyphs" >CD45.1</text>
<text x="299.50" y="359.30" font-size="8.5" text-anchor="start" font-weight="normal" fill="#222" textLength="19.5" lengthAdjust="spacingAndGlyphs" >CD45.2</text>
<text x="327.50" y="359.30" font-size="8.5" text-anchor="start" font-weight="normal" fill="#222" textLength="19.5" lengthAdjust="spacingAndGlyphs" >CD45.1</text>
<text x="354.50" y="359.30" font-size="8.5" text-anchor="start" font-weight="normal" fill="#222" textLength="19.19999999999999" lengthAdjust="spacingAndGlyphs" >CD45.2</text>
<text x="300.55" y="366.80" font-size="8.5" text-anchor="start" font-weight="normal" fill="#222" textLength="47.5" lengthAdjust="spacingAndGlyphs" >Surface markers</text>
<line x1="409" y1="231" x2="409" y2="339.3" stroke="#999" stroke-width="1.0" />
<line x1="409" y1="338.8" x2="512.5" y2="338.8" stroke="#999" stroke-width="1.0" />
<line x1="407.5" y1="338.8" x2="409" y2="338.8" stroke="#999" stroke-width="0.7" />
<text x="403.90" y="341.80" font-size="8" text-anchor="start" font-weight="normal" fill="#222" textLength="3.5" lengthAdjust="spacingAndGlyphs" >0</text>
<line x1="407.5" y1="317.40000000000003" x2="409" y2="317.40000000000003" stroke="#999" stroke-width="0.7" />
<text x="400.70" y="320.40" font-size="8" text-anchor="start" font-weight="normal" fill="#222" textLength="6.7" lengthAdjust="spacingAndGlyphs" >20</text>
<line x1="407.5" y1="296.0" x2="409" y2="296.0" stroke="#999" stroke-width="0.7" />
<text x="400.70" y="299.00" font-size="8" text-anchor="start" font-weight="normal" fill="#222" textLength="6.7" lengthAdjust="spacingAndGlyphs" >40</text>
<line x1="407.5" y1="274.6" x2="409" y2="274.6" stroke="#999" stroke-width="0.7" />
<text x="400.70" y="277.60" font-size="8" text-anchor="start" font-weight="normal" fill="#222" textLength="6.7" lengthAdjust="spacingAndGlyphs" >60</text>
<line x1="407.5" y1="253.2" x2="409" y2="253.2" stroke="#999" stroke-width="0.7" />
<text x="400.70" y="256.20" font-size="8" text-anchor="start" font-weight="normal" fill="#222" textLength="6.7" lengthAdjust="spacingAndGlyphs" >80</text>
<line x1="407.5" y1="231.8" x2="409" y2="231.8" stroke="#999" stroke-width="0.7" />
<text x="397.90" y="234.80" font-size="8" text-anchor="start" font-weight="normal" fill="#222" textLength="9.5" lengthAdjust="spacingAndGlyphs" >100</text>
<text x="394.30" y="340.50" font-size="8.8" text-anchor="start" font-weight="normal" fill="#222" textLength="100" lengthAdjust="spacingAndGlyphs" transform="rotate(-90 394.30 340.50)" >Positive cells in spleen (%)</text>
<line x1="418.6" y1="281" x2="418.6" y2="305" stroke="#000" stroke-width="1.05" />
<line x1="417.40000000000003" y1="281" x2="419.8" y2="281" stroke="#000" stroke-width="1.05" />
<line x1="417.40000000000003" y1="305" x2="419.8" y2="305" stroke="#000" stroke-width="1.05" />
<rect x="414.90" y="303.20" width="7.60" height="35.60" fill="#111"/>
<rect x="422.50" y="255.80" width="8.50" height="83.00" fill="#b8b8b8" stroke="#000" stroke-width="0.95"/>
<line x1="426.8" y1="255" x2="426.8" y2="256.6" stroke="#000" stroke-width="1.05" />
<line x1="425.3" y1="255" x2="428.3" y2="255" stroke="#000" stroke-width="1.05" />
<line x1="425.3" y1="256.6" x2="428.3" y2="256.6" stroke="#000" stroke-width="1.05" />
<line x1="417.5" y1="248" x2="429.7" y2="248" stroke="#111" stroke-width="1.1" />
<text x="424.00" y="247.60" font-size="6.5" text-anchor="middle" font-weight="bold" fill="#000" >*</text>
<line x1="446" y1="248.2" x2="446" y2="279" stroke="#000" stroke-width="1.05" />
<line x1="444.8" y1="248.2" x2="447.2" y2="248.2" stroke="#000" stroke-width="1.05" />
<line x1="444.8" y1="279" x2="447.2" y2="279" stroke="#000" stroke-width="1.05" />
<rect x="442.00" y="276.80" width="8.00" height="62.00" fill="#111"/>
<rect x="450.00" y="329.00" width="7.70" height="9.80" fill="#b8b8b8" stroke="#000" stroke-width="0.95"/>
<line x1="453.8" y1="324.5" x2="453.8" y2="334" stroke="#000" stroke-width="1.05" />
<line x1="452.2" y1="324.5" x2="455.40000000000003" y2="324.5" stroke="#000" stroke-width="1.05" />
<line x1="452.2" y1="334" x2="455.40000000000003" y2="334" stroke="#000" stroke-width="1.05" />
<line x1="443.4" y1="244.3" x2="455" y2="244.3" stroke="#111" stroke-width="1.1" />
<text x="449.00" y="243.90" font-size="6.5" text-anchor="middle" font-weight="bold" fill="#000" >*</text>
<line x1="473.3" y1="260.4" x2="473.3" y2="290" stroke="#000" stroke-width="1.05" />
<line x1="472.1" y1="260.4" x2="474.5" y2="260.4" stroke="#000" stroke-width="1.05" />
<line x1="472.1" y1="290" x2="474.5" y2="290" stroke="#000" stroke-width="1.05" />
<rect x="469.40" y="288.30" width="7.80" height="50.50" fill="#111"/>
<rect x="477.20" y="248.70" width="7.80" height="90.10" fill="#b8b8b8" stroke="#000" stroke-width="0.95"/>
<line x1="481" y1="244" x2="481" y2="253" stroke="#000" stroke-width="1.05" />
<line x1="479.2" y1="244" x2="482.8" y2="244" stroke="#000" stroke-width="1.05" />
<line x1="479.2" y1="253" x2="482.8" y2="253" stroke="#000" stroke-width="1.05" />
<line x1="470.7" y1="241" x2="483" y2="241" stroke="#111" stroke-width="1.1" />
<text x="477.00" y="240.60" font-size="6.5" text-anchor="middle" font-weight="bold" fill="#000" >*</text>
<line x1="500" y1="262.2" x2="500" y2="293" stroke="#000" stroke-width="1.05" />
<line x1="498.8" y1="262.2" x2="501.2" y2="262.2" stroke="#000" stroke-width="1.05" />
<line x1="498.8" y1="293" x2="501.2" y2="293" stroke="#000" stroke-width="1.05" />
<rect x="496.00" y="291.50" width="8.00" height="47.30" fill="#111"/>
<rect x="504.00" y="331.20" width="7.70" height="7.60" fill="#b8b8b8" stroke="#000" stroke-width="0.95"/>
<line x1="507.8" y1="326" x2="507.8" y2="337" stroke="#000" stroke-width="1.05" />
<line x1="506.2" y1="326" x2="509.40000000000003" y2="326" stroke="#000" stroke-width="1.05" />
<line x1="506.2" y1="337" x2="509.40000000000003" y2="337" stroke="#000" stroke-width="1.05" />
<line x1="496.6" y1="259" x2="507.8" y2="259" stroke="#111" stroke-width="1.1" />
<text x="502.30" y="258.60" font-size="6.5" text-anchor="middle" font-weight="bold" fill="#000" >*</text>
<rect x="494.00" y="231.20" width="3.80" height="3.60" fill="#000"/>
<text x="500.50" y="235.00" font-size="7" text-anchor="start" font-weight="normal" fill="#222" textLength="7.8" lengthAdjust="spacingAndGlyphs" >stg</text>
<rect x="494.30" y="237.40" width="3.40" height="3.30" fill="#ccc" stroke="#333" stroke-width="0.6"/>
<text x="500.50" y="241.50" font-size="7" text-anchor="start" font-weight="normal" fill="#222" textLength="8" lengthAdjust="spacingAndGlyphs" >dtg</text>
<line x1="413.6" y1="341.3" x2="459" y2="341.3" stroke="#000" stroke-width="1.3" />
<line x1="468" y1="341" x2="512" y2="341" stroke="#000" stroke-width="1.3" />
<text x="430.40" y="348.20" font-size="8" text-anchor="start" font-weight="normal" fill="#222" textLength="9.6" lengthAdjust="spacingAndGlyphs" >LSK</text>
<text x="478.55" y="347.80" font-size="8" text-anchor="start" font-weight="normal" fill="#222" textLength="28.5" lengthAdjust="spacingAndGlyphs" >Progenitor</text>
<line x1="413" y1="349.1" x2="429.7" y2="349.1" stroke="#000" stroke-width="1.3" />
<line x1="440" y1="349.1" x2="457.7" y2="349.1" stroke="#000" stroke-width="1.3" />
<line x1="467.6" y1="349.1" x2="484.2" y2="349.1" stroke="#000" stroke-width="1.3" />
<line x1="494" y1="349.1" x2="512.2" y2="349.1" stroke="#000" stroke-width="1.3" />
<text x="410.20" y="357.50" font-size="8.5" text-anchor="start" font-weight="normal" fill="#222" textLength="19.5" lengthAdjust="spacingAndGlyphs" >CD45.1</text>
<text x="438.20" y="357.50" font-size="8.5" text-anchor="start" font-weight="normal" fill="#222" textLength="20.0" lengthAdjust="spacingAndGlyphs" >CD45.2</text>
<text x="466.00" y="357.50" font-size="8.5" text-anchor="start" font-weight="normal" fill="#222" textLength="19" lengthAdjust="spacingAndGlyphs" >CD45.1</text>
<text x="492.70" y="357.50" font-size="8.5" text-anchor="start" font-weight="normal" fill="#222" textLength="20.000000000000057" lengthAdjust="spacingAndGlyphs" >CD45.2</text>
<text x="436.00" y="366.00" font-size="8.5" text-anchor="start" font-weight="normal" fill="#222" textLength="49" lengthAdjust="spacingAndGlyphs" >Surface markers</text>
<text x="103.00" y="403.70" font-size="17.5" text-anchor="start" font-weight="bold" fill="#000" textLength="13.5" lengthAdjust="spacingAndGlyphs" >D</text>
<line x1="139.5" y1="397" x2="139.5" y2="598.0" stroke="#888" stroke-width="1.0" />
<line x1="139.7" y1="597.5" x2="381" y2="597.5" stroke="#888" stroke-width="1.0" />
<line x1="138.2" y1="597.5" x2="139.7" y2="597.5" stroke="#999" stroke-width="0.7" />
<text x="137.20" y="601.10" font-size="10.5" text-anchor="end" font-weight="normal" fill="#222" >0</text>
<line x1="138.2" y1="575.33" x2="139.7" y2="575.33" stroke="#999" stroke-width="0.7" />
<text x="137.20" y="578.93" font-size="10.5" text-anchor="end" font-weight="normal" fill="#222" >1</text>
<line x1="138.2" y1="553.16" x2="139.7" y2="553.16" stroke="#999" stroke-width="0.7" />
<text x="137.20" y="556.76" font-size="10.5" text-anchor="end" font-weight="normal" fill="#222" >2</text>
<line x1="138.2" y1="530.99" x2="139.7" y2="530.99" stroke="#999" stroke-width="0.7" />
<text x="137.20" y="534.59" font-size="10.5" text-anchor="end" font-weight="normal" fill="#222" >3</text>
<line x1="138.2" y1="508.82" x2="139.7" y2="508.82" stroke="#999" stroke-width="0.7" />
<text x="137.20" y="512.42" font-size="10.5" text-anchor="end" font-weight="normal" fill="#222" >4</text>
<line x1="138.2" y1="486.65" x2="139.7" y2="486.65" stroke="#999" stroke-width="0.7" />
<text x="137.20" y="490.25" font-size="10.5" text-anchor="end" font-weight="normal" fill="#222" >5</text>
<line x1="138.2" y1="464.48" x2="139.7" y2="464.48" stroke="#999" stroke-width="0.7" />
<text x="137.20" y="468.08" font-size="10.5" text-anchor="end" font-weight="normal" fill="#222" >6</text>
<line x1="138.2" y1="442.31" x2="139.7" y2="442.31" stroke="#999" stroke-width="0.7" />
<text x="137.20" y="445.91" font-size="10.5" text-anchor="end" font-weight="normal" fill="#222" >7</text>
<line x1="138.2" y1="420.14" x2="139.7" y2="420.14" stroke="#999" stroke-width="0.7" />
<text x="137.20" y="423.74" font-size="10.5" text-anchor="end" font-weight="normal" fill="#222" >8</text>
<line x1="138.2" y1="397.96999999999997" x2="139.7" y2="397.96999999999997" stroke="#999" stroke-width="0.7" />
<text x="137.20" y="401.57" font-size="10.5" text-anchor="end" font-weight="normal" fill="#222" >9</text>
<text x="113.60" y="570.80" font-size="9.7" text-anchor="start" font-weight="normal" fill="#222" textLength="145.7" lengthAdjust="spacingAndGlyphs" transform="rotate(-90 113.60 570.80)" >Absolut numerbs of granulocytes</text>
<text x="124.80" y="530.80" font-size="10" text-anchor="start" font-weight="normal" fill="#222" textLength="60" lengthAdjust="spacingAndGlyphs" transform="rotate(-90 124.80 530.80)" >in PB (x10<tspan font-size="6" dy="-3">3</tspan><tspan dy="3">/µl)</tspan></text>
<line x1="155.6" y1="557.9" x2="155.6" y2="568" stroke="#000" stroke-width="1.05" />
<line x1="154.4" y1="557.9" x2="156.79999999999998" y2="557.9" stroke="#000" stroke-width="1.05" />
<line x1="154.4" y1="568" x2="156.79999999999998" y2="568" stroke="#000" stroke-width="1.05" />
<rect x="149.20" y="566.00" width="13.00" height="31.50" fill="#000"/>
<rect x="162.20" y="521.20" width="12.10" height="76.30" fill="#6c6c6c" stroke="#000" stroke-width="0.95"/>
<line x1="168.5" y1="517.5" x2="168.5" y2="524" stroke="#000" stroke-width="1.05" />
<line x1="166.7" y1="517.5" x2="170.3" y2="517.5" stroke="#000" stroke-width="1.05" />
<line x1="166.7" y1="524" x2="170.3" y2="524" stroke="#000" stroke-width="1.05" />
<line x1="182.1" y1="557.9" x2="182.1" y2="574.6" stroke="#000" stroke-width="1.05" />
<line x1="180.29999999999998" y1="557.9" x2="183.9" y2="557.9" stroke="#000" stroke-width="1.05" />
<line x1="180.29999999999998" y1="574.6" x2="183.9" y2="574.6" stroke="#000" stroke-width="1.05" />
<rect x="176.30" y="566.00" width="12.40" height="31.50" fill="#b4b4b4" stroke="#000" stroke-width="0.95"/>
<rect x="188.70" y="521.20" width="12.40" height="76.30" fill="#e2e2e2" stroke="#000" stroke-width="0.95"/>
<line x1="182.1" y1="557.9" x2="182.1" y2="574.6" stroke="#000" stroke-width="1.05" />
<line x1="180.29999999999998" y1="557.9" x2="183.9" y2="557.9" stroke="#000" stroke-width="1.05" />
<line x1="180.29999999999998" y1="574.6" x2="183.9" y2="574.6" stroke="#000" stroke-width="1.05" />
<line x1="195" y1="517.5" x2="195" y2="524" stroke="#000" stroke-width="1.05" />
<line x1="193.2" y1="517.5" x2="196.8" y2="517.5" stroke="#000" stroke-width="1.05" />
<line x1="193.2" y1="524" x2="196.8" y2="524" stroke="#000" stroke-width="1.05" />
<line x1="148.4" y1="510.3" x2="172.9" y2="510.3" stroke="#111" stroke-width="1.1" />
<text x="160.80" y="510.50" font-size="7" text-anchor="middle" font-weight="bold" fill="#000" >*</text>
<line x1="175.2" y1="510.3" x2="199.4" y2="510.3" stroke="#111" stroke-width="1.1" />
<text x="188.20" y="510.50" font-size="7" text-anchor="middle" font-weight="bold" fill="#000" >*</text>
<line x1="224" y1="578" x2="224" y2="580" stroke="#000" stroke-width="1.05" />
<line x1="222.8" y1="578" x2="225.2" y2="578" stroke="#000" stroke-width="1.05" />
<line x1="222.8" y1="580" x2="225.2" y2="580" stroke="#000" stroke-width="1.05" />
<rect x="217.90" y="579.00" width="12.40" height="18.50" fill="#000"/>
<rect x="230.30" y="505.40" width="13.00" height="92.10" fill="#6c6c6c" stroke="#000" stroke-width="0.95"/>
<line x1="236.6" y1="472.9" x2="236.6" y2="537.7" stroke="#000" stroke-width="1.05" />
<line x1="235.1" y1="472.9" x2="238.1" y2="472.9" stroke="#000" stroke-width="1.05" />
<line x1="235.1" y1="537.7" x2="238.1" y2="537.7" stroke="#000" stroke-width="1.05" />
<rect x="243.80" y="568.80" width="13.00" height="28.70" fill="#b4b4b4" stroke="#000" stroke-width="0.95"/>
<rect x="256.80" y="533.40" width="12.40" height="64.10" fill="#e2e2e2" stroke="#000" stroke-width="0.95"/>
<line x1="250.5" y1="548.4" x2="250.5" y2="589.6" stroke="#000" stroke-width="1.05" />
<line x1="249.0" y1="548.4" x2="252.0" y2="548.4" stroke="#000" stroke-width="1.05" />
<line x1="249.0" y1="589.6" x2="252.0" y2="589.6" stroke="#000" stroke-width="1.05" />
<line x1="262.9" y1="493.6" x2="262.9" y2="572.9" stroke="#000" stroke-width="1.05" />
<line x1="261.4" y1="493.6" x2="264.4" y2="493.6" stroke="#000" stroke-width="1.05" />
<line x1="261.4" y1="572.9" x2="264.4" y2="572.9" stroke="#000" stroke-width="1.05" />
<line x1="217.9" y1="463" x2="242.4" y2="463" stroke="#111" stroke-width="1.1" />
<text x="230.30" y="463.20" font-size="7" text-anchor="middle" font-weight="bold" fill="#000" >*</text>
<line x1="292" y1="574.6" x2="292" y2="579" stroke="#000" stroke-width="1.05" />
<line x1="290.5" y1="574.6" x2="293.5" y2="574.6" stroke="#000" stroke-width="1.05" />
<line x1="290.5" y1="579" x2="293.5" y2="579" stroke="#000" stroke-width="1.05" />
<rect x="285.70" y="577.50" width="12.90" height="20.00" fill="#000"/>
<rect x="298.60" y="466.00" width="12.40" height="131.50" fill="#6c6c6c" stroke="#000" stroke-width="0.95"/>
<line x1="304.7" y1="415.2" x2="304.7" y2="517.5" stroke="#000" stroke-width="1.05" />
<line x1="303.2" y1="415.2" x2="306.2" y2="415.2" stroke="#000" stroke-width="1.05" />
<line x1="303.2" y1="517.5" x2="306.2" y2="517.5" stroke="#000" stroke-width="1.05" />
<rect x="312.50" y="571.40" width="12.10" height="26.10" fill="#b4b4b4" stroke="#000" stroke-width="0.95"/>
<rect x="324.60" y="569.40" width="13.00" height="28.10" fill="#e2e2e2" stroke="#000" stroke-width="0.95"/>
<line x1="318.3" y1="557.3" x2="318.3" y2="585.9" stroke="#000" stroke-width="1.05" />
<line x1="316.8" y1="557.3" x2="319.8" y2="557.3" stroke="#000" stroke-width="1.05" />
<line x1="316.8" y1="585.9" x2="319.8" y2="585.9" stroke="#000" stroke-width="1.05" />
<line x1="330.7" y1="552" x2="330.7" y2="587.3" stroke="#000" stroke-width="1.05" />
<line x1="329.2" y1="552" x2="332.2" y2="552" stroke="#000" stroke-width="1.05" />
<line x1="329.2" y1="587.3" x2="332.2" y2="587.3" stroke="#000" stroke-width="1.05" />
<line x1="285" y1="407.4" x2="309" y2="407.4" stroke="#111" stroke-width="1.1" />
<text x="297.20" y="407.60" font-size="7" text-anchor="middle" font-weight="bold" fill="#000" >*</text>
<rect x="353.00" y="574.30" width="12.50" height="23.20" fill="#b4b4b4" stroke="#000" stroke-width="0.95"/>
<rect x="365.50" y="525.30" width="12.70" height="72.20" fill="#e2e2e2" stroke="#000" stroke-width="0.95"/>
<line x1="359.4" y1="571.4" x2="359.4" y2="577.5" stroke="#000" stroke-width="1.05" />
<line x1="357.9" y1="571.4" x2="360.9" y2="571.4" stroke="#000" stroke-width="1.05" />
<line x1="357.9" y1="577.5" x2="360.9" y2="577.5" stroke="#000" stroke-width="1.05" />
<line x1="372" y1="506.5" x2="372" y2="544" stroke="#000" stroke-width="1.05" />
<line x1="370.5" y1="506.5" x2="373.5" y2="506.5" stroke="#000" stroke-width="1.05" />
<line x1="370.5" y1="544" x2="373.5" y2="544" stroke="#000" stroke-width="1.05" />
<line x1="354.5" y1="496.7" x2="379" y2="496.7" stroke="#111" stroke-width="1.1" />
<text x="367.00" y="496.90" font-size="7" text-anchor="middle" font-weight="bold" fill="#000" >*</text>
<rect x="330.50" y="401.20" width="5.60" height="4.80" fill="#000"/>
<text x="338.80" y="407.50" font-size="11" text-anchor="start" font-weight="normal" fill="#111" textLength="51" lengthAdjust="spacingAndGlyphs" >stg (water)</text>
<rect x="330.80" y="413.45" width="5.20" height="4.40" fill="#6c6c6c" stroke="#333" stroke-width="0.7"/>
<text x="338.80" y="419.55" font-size="11" text-anchor="start" font-weight="normal" fill="#111" textLength="51.5" lengthAdjust="spacingAndGlyphs" >dtg (water)</text>
<rect x="330.80" y="425.50" width="5.20" height="4.40" fill="#b4b4b4" stroke="#333" stroke-width="0.7"/>
<text x="338.80" y="431.60" font-size="11" text-anchor="start" font-weight="normal" fill="#111" textLength="36.5" lengthAdjust="spacingAndGlyphs" >stg (IM)</text>
<rect x="330.80" y="437.55" width="5.20" height="4.40" fill="#e2e2e2" stroke="#333" stroke-width="0.7"/>
<text x="338.80" y="443.65" font-size="11" text-anchor="start" font-weight="normal" fill="#111" textLength="37" lengthAdjust="spacingAndGlyphs" >dtg (IM)</text>
<line x1="149" y1="601.2" x2="201" y2="601.2" stroke="#000" stroke-width="1.25" />
<line x1="217.9" y1="601.2" x2="243.3" y2="601.2" stroke="#000" stroke-width="1.25" />
<line x1="244.9" y1="601.2" x2="269.2" y2="601.2" stroke="#000" stroke-width="1.25" />
<line x1="285.7" y1="601.2" x2="311" y2="601.2" stroke="#000" stroke-width="1.25" />
<line x1="312.5" y1="601.2" x2="337.6" y2="601.2" stroke="#000" stroke-width="1.25" />
<line x1="353" y1="601.2" x2="379" y2="601.2" stroke="#000" stroke-width="1.25" />
<text x="161.30" y="610.30" font-size="10.5" text-anchor="start" font-weight="normal" fill="#222" textLength="28" lengthAdjust="spacingAndGlyphs" >Before</text>
<text x="153.50" y="619.80" font-size="10.5" text-anchor="start" font-weight="normal" fill="#222" textLength="44" lengthAdjust="spacingAndGlyphs" >treatment</text>
<text x="217.90" y="611.00" font-size="10.5" text-anchor="start" font-weight="normal" fill="#222" textLength="24.8" lengthAdjust="spacingAndGlyphs" >water</text>
<text x="252.80" y="611.00" font-size="10.5" text-anchor="start" font-weight="normal" fill="#222" textLength="9.2" lengthAdjust="spacingAndGlyphs" >IM</text>
<text x="217.90" y="621.20" font-size="10.5" text-anchor="start" font-weight="normal" fill="#222" textLength="49" lengthAdjust="spacingAndGlyphs" >for 2 weeks</text>
<text x="286.50" y="611.00" font-size="10.5" text-anchor="start" font-weight="normal" fill="#222" textLength="24.5" lengthAdjust="spacingAndGlyphs" >water</text>
<text x="319.70" y="611.00" font-size="10.5" text-anchor="start" font-weight="normal" fill="#222" textLength="9.3" lengthAdjust="spacingAndGlyphs" >IM</text>
<text x="285.70" y="621.20" font-size="10.5" text-anchor="start" font-weight="normal" fill="#222" textLength="48.3" lengthAdjust="spacingAndGlyphs" >for 4 weeks</text>
<text x="361.10" y="609.70" font-size="10.5" text-anchor="start" font-weight="normal" fill="#222" textLength="11" lengthAdjust="spacingAndGlyphs" >off</text>
<text x="348.00" y="617.50" font-size="10.5" text-anchor="start" font-weight="normal" fill="#222" textLength="44" lengthAdjust="spacingAndGlyphs" >treatment</text>
<text x="346.70" y="625.30" font-size="10.5" text-anchor="start" font-weight="normal" fill="#222" textLength="49" lengthAdjust="spacingAndGlyphs" >for 2 weeks</text>
</svg>
</body></html>
